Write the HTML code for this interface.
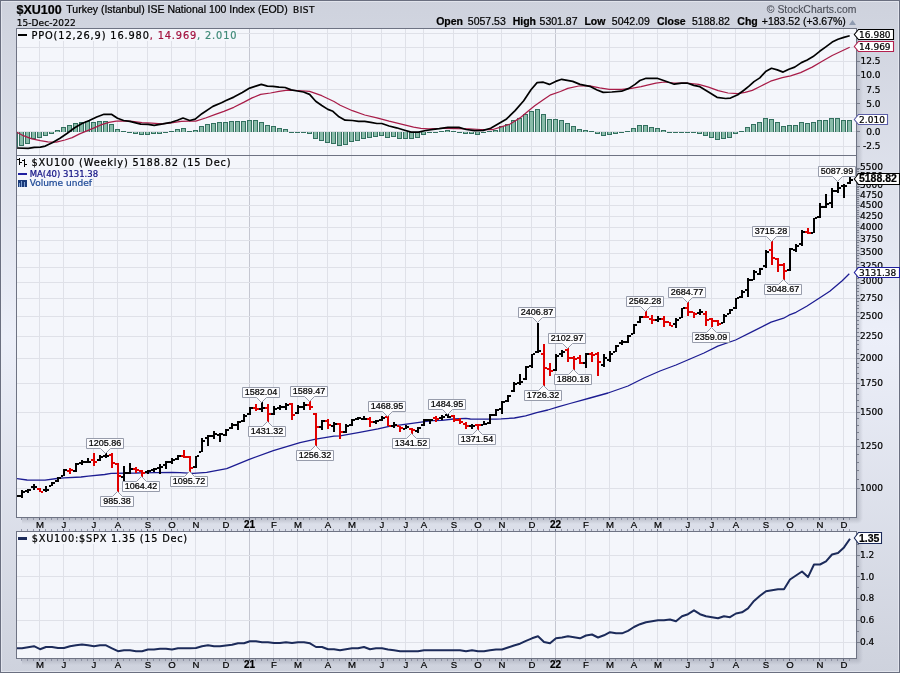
<!DOCTYPE html><html><head><meta charset="utf-8"><style>
html,body{margin:0;padding:0;background:#d8dce6;}
body{width:900px;height:673px;overflow:hidden;position:relative;}
svg{position:absolute;left:0;top:0;display:block;}
text{font-family:"Liberation Sans",Arial,sans-serif;stroke:#000;stroke-width:0.22px;}
.m{font-family:"Liberation Mono",monospace;}
.d{font-family:"DejaVu Sans",Verdana,sans-serif;}
</style></head><body>
<svg width="900" height="673" viewBox="0 0 900 673">
<defs>
<linearGradient id="bg" x1="0" y1="0" x2="0" y2="1"><stop offset="0" stop-color="#ced2dd"/><stop offset="0.5" stop-color="#eceff9"/><stop offset="1" stop-color="#ced2dd"/></linearGradient>
<linearGradient id="shR" x1="0" y1="0" x2="1" y2="0"><stop offset="0" stop-color="#9da1ae" stop-opacity="0.55"/><stop offset="1" stop-color="#9da1ae" stop-opacity="0"/></linearGradient>
<linearGradient id="shB" x1="0" y1="0" x2="0" y2="1"><stop offset="0" stop-color="#9da1ae" stop-opacity="0.55"/><stop offset="1" stop-color="#9da1ae" stop-opacity="0"/></linearGradient>
<clipPath id="c1"><rect x="17" y="29" width="839" height="126"/></clipPath>
<clipPath id="c2"><rect x="17" y="156" width="839" height="361"/></clipPath>
<clipPath id="c3"><rect x="17" y="532" width="839" height="126"/></clipPath>
<radialGradient id="shC" cx="0" cy="0" r="1" gradientUnits="objectBoundingBox"><stop offset="0" stop-color="#9da1ae" stop-opacity="0.55"/><stop offset="1" stop-color="#9da1ae" stop-opacity="0"/></radialGradient>
</defs>
<rect x="0" y="0" width="900" height="673" fill="url(#bg)"/>
<rect x="0.5" y="0.5" width="899" height="672" fill="none" stroke="#6a6f80" stroke-width="1"/>
<rect x="1.5" y="1.5" width="897" height="670" fill="none" stroke="#eef0f6" stroke-opacity="0.6" stroke-width="1"/>
<rect x="857" y="34" width="6" height="484" fill="url(#shR)"/>
<rect x="22" y="518" width="835" height="6" fill="url(#shB)"/>
<rect x="857" y="537" width="6" height="122" fill="url(#shR)"/>
<rect x="857" y="518" width="6" height="6" fill="url(#shC)"/>
<rect x="857" y="659" width="6" height="6" fill="url(#shC)"/>
<rect x="22" y="659" width="835" height="6" fill="url(#shB)"/>
<rect x="16" y="28" width="841" height="128" fill="#f4f6fb"/>
<rect x="16" y="155" width="841" height="363" fill="#f4f6fb"/>
<rect x="16" y="531" width="841" height="128" fill="#f4f6fb"/>
<g shape-rendering="crispEdges">
<rect x="39" y="29" width="1" height="126" fill="#dfe1e8"/><rect x="63" y="29" width="1" height="126" fill="#dfe1e8"/><rect x="93" y="29" width="1" height="126" fill="#dfe1e8"/><rect x="117" y="29" width="1" height="126" fill="#dfe1e8"/><rect x="147" y="29" width="1" height="126" fill="#dfe1e8"/><rect x="171" y="29" width="1" height="126" fill="#dfe1e8"/><rect x="195" y="29" width="1" height="126" fill="#dfe1e8"/><rect x="225" y="29" width="1" height="126" fill="#dfe1e8"/><rect x="249" y="29" width="1" height="126" fill="#c5c7d1"/><rect x="273" y="29" width="1" height="126" fill="#dfe1e8"/><rect x="297" y="29" width="1" height="126" fill="#dfe1e8"/><rect x="327" y="29" width="1" height="126" fill="#dfe1e8"/><rect x="351" y="29" width="1" height="126" fill="#dfe1e8"/><rect x="381" y="29" width="1" height="126" fill="#dfe1e8"/><rect x="405" y="29" width="1" height="126" fill="#dfe1e8"/><rect x="423" y="29" width="1" height="126" fill="#dfe1e8"/><rect x="453" y="29" width="1" height="126" fill="#dfe1e8"/><rect x="477" y="29" width="1" height="126" fill="#dfe1e8"/><rect x="501" y="29" width="1" height="126" fill="#dfe1e8"/><rect x="531" y="29" width="1" height="126" fill="#dfe1e8"/><rect x="555" y="29" width="1" height="126" fill="#c5c7d1"/><rect x="585" y="29" width="1" height="126" fill="#dfe1e8"/><rect x="609" y="29" width="1" height="126" fill="#dfe1e8"/><rect x="633" y="29" width="1" height="126" fill="#dfe1e8"/><rect x="657" y="29" width="1" height="126" fill="#dfe1e8"/><rect x="687" y="29" width="1" height="126" fill="#dfe1e8"/><rect x="711" y="29" width="1" height="126" fill="#dfe1e8"/><rect x="735" y="29" width="1" height="126" fill="#dfe1e8"/><rect x="765" y="29" width="1" height="126" fill="#dfe1e8"/><rect x="789" y="29" width="1" height="126" fill="#dfe1e8"/><rect x="819" y="29" width="1" height="126" fill="#dfe1e8"/><rect x="843" y="29" width="1" height="126" fill="#dfe1e8"/>
<rect x="17" y="146" width="839" height="1" fill="#dfe1e8"/>
<rect x="17" y="131" width="839" height="1" fill="#dfe1e8"/>
<rect x="17" y="117" width="839" height="1" fill="#dfe1e8"/>
<rect x="17" y="103" width="839" height="1" fill="#dfe1e8"/>
<rect x="17" y="89" width="839" height="1" fill="#dfe1e8"/>
<rect x="17" y="75" width="839" height="1" fill="#dfe1e8"/>
<rect x="17" y="61" width="839" height="1" fill="#dfe1e8"/>
<rect x="17" y="47" width="839" height="1" fill="#dfe1e8"/>
<rect x="17" y="33" width="839" height="1" fill="#dfe1e8"/>
<rect x="39" y="156" width="1" height="361" fill="#dfe1e8"/><rect x="63" y="156" width="1" height="361" fill="#dfe1e8"/><rect x="93" y="156" width="1" height="361" fill="#dfe1e8"/><rect x="117" y="156" width="1" height="361" fill="#dfe1e8"/><rect x="147" y="156" width="1" height="361" fill="#dfe1e8"/><rect x="171" y="156" width="1" height="361" fill="#dfe1e8"/><rect x="195" y="156" width="1" height="361" fill="#dfe1e8"/><rect x="225" y="156" width="1" height="361" fill="#dfe1e8"/><rect x="249" y="156" width="1" height="361" fill="#c5c7d1"/><rect x="273" y="156" width="1" height="361" fill="#dfe1e8"/><rect x="297" y="156" width="1" height="361" fill="#dfe1e8"/><rect x="327" y="156" width="1" height="361" fill="#dfe1e8"/><rect x="351" y="156" width="1" height="361" fill="#dfe1e8"/><rect x="381" y="156" width="1" height="361" fill="#dfe1e8"/><rect x="405" y="156" width="1" height="361" fill="#dfe1e8"/><rect x="423" y="156" width="1" height="361" fill="#dfe1e8"/><rect x="453" y="156" width="1" height="361" fill="#dfe1e8"/><rect x="477" y="156" width="1" height="361" fill="#dfe1e8"/><rect x="501" y="156" width="1" height="361" fill="#dfe1e8"/><rect x="531" y="156" width="1" height="361" fill="#dfe1e8"/><rect x="555" y="156" width="1" height="361" fill="#c5c7d1"/><rect x="585" y="156" width="1" height="361" fill="#dfe1e8"/><rect x="609" y="156" width="1" height="361" fill="#dfe1e8"/><rect x="633" y="156" width="1" height="361" fill="#dfe1e8"/><rect x="657" y="156" width="1" height="361" fill="#dfe1e8"/><rect x="687" y="156" width="1" height="361" fill="#dfe1e8"/><rect x="711" y="156" width="1" height="361" fill="#dfe1e8"/><rect x="735" y="156" width="1" height="361" fill="#dfe1e8"/><rect x="765" y="156" width="1" height="361" fill="#dfe1e8"/><rect x="789" y="156" width="1" height="361" fill="#dfe1e8"/><rect x="819" y="156" width="1" height="361" fill="#dfe1e8"/><rect x="843" y="156" width="1" height="361" fill="#dfe1e8"/>
<rect x="17" y="488" width="839" height="1" fill="#dfe1e8"/>
<rect x="17" y="446" width="839" height="1" fill="#dfe1e8"/>
<rect x="17" y="412" width="839" height="1" fill="#dfe1e8"/>
<rect x="17" y="383" width="839" height="1" fill="#dfe1e8"/>
<rect x="17" y="358" width="839" height="1" fill="#dfe1e8"/>
<rect x="17" y="336" width="839" height="1" fill="#dfe1e8"/>
<rect x="17" y="316" width="839" height="1" fill="#dfe1e8"/>
<rect x="17" y="298" width="839" height="1" fill="#dfe1e8"/>
<rect x="17" y="282" width="839" height="1" fill="#dfe1e8"/>
<rect x="17" y="267" width="839" height="1" fill="#dfe1e8"/>
<rect x="17" y="253" width="839" height="1" fill="#dfe1e8"/>
<rect x="17" y="240" width="839" height="1" fill="#dfe1e8"/>
<rect x="17" y="227" width="839" height="1" fill="#dfe1e8"/>
<rect x="17" y="216" width="839" height="1" fill="#dfe1e8"/>
<rect x="17" y="205" width="839" height="1" fill="#dfe1e8"/>
<rect x="17" y="195" width="839" height="1" fill="#dfe1e8"/>
<rect x="17" y="186" width="839" height="1" fill="#dfe1e8"/>
<rect x="17" y="176" width="839" height="1" fill="#dfe1e8"/>
<rect x="17" y="168" width="839" height="1" fill="#dfe1e8"/>
<rect x="39" y="532" width="1" height="126" fill="#dfe1e8"/><rect x="63" y="532" width="1" height="126" fill="#dfe1e8"/><rect x="93" y="532" width="1" height="126" fill="#dfe1e8"/><rect x="117" y="532" width="1" height="126" fill="#dfe1e8"/><rect x="147" y="532" width="1" height="126" fill="#dfe1e8"/><rect x="171" y="532" width="1" height="126" fill="#dfe1e8"/><rect x="195" y="532" width="1" height="126" fill="#dfe1e8"/><rect x="225" y="532" width="1" height="126" fill="#dfe1e8"/><rect x="249" y="532" width="1" height="126" fill="#c5c7d1"/><rect x="273" y="532" width="1" height="126" fill="#dfe1e8"/><rect x="297" y="532" width="1" height="126" fill="#dfe1e8"/><rect x="327" y="532" width="1" height="126" fill="#dfe1e8"/><rect x="351" y="532" width="1" height="126" fill="#dfe1e8"/><rect x="381" y="532" width="1" height="126" fill="#dfe1e8"/><rect x="405" y="532" width="1" height="126" fill="#dfe1e8"/><rect x="423" y="532" width="1" height="126" fill="#dfe1e8"/><rect x="453" y="532" width="1" height="126" fill="#dfe1e8"/><rect x="477" y="532" width="1" height="126" fill="#dfe1e8"/><rect x="501" y="532" width="1" height="126" fill="#dfe1e8"/><rect x="531" y="532" width="1" height="126" fill="#dfe1e8"/><rect x="555" y="532" width="1" height="126" fill="#c5c7d1"/><rect x="585" y="532" width="1" height="126" fill="#dfe1e8"/><rect x="609" y="532" width="1" height="126" fill="#dfe1e8"/><rect x="633" y="532" width="1" height="126" fill="#dfe1e8"/><rect x="657" y="532" width="1" height="126" fill="#dfe1e8"/><rect x="687" y="532" width="1" height="126" fill="#dfe1e8"/><rect x="711" y="532" width="1" height="126" fill="#dfe1e8"/><rect x="735" y="532" width="1" height="126" fill="#dfe1e8"/><rect x="765" y="532" width="1" height="126" fill="#dfe1e8"/><rect x="789" y="532" width="1" height="126" fill="#dfe1e8"/><rect x="819" y="532" width="1" height="126" fill="#dfe1e8"/><rect x="843" y="532" width="1" height="126" fill="#dfe1e8"/>
<rect x="17" y="642" width="839" height="1" fill="#dfe1e8"/>
<rect x="17" y="620" width="839" height="1" fill="#dfe1e8"/>
<rect x="17" y="598" width="839" height="1" fill="#dfe1e8"/>
<rect x="17" y="576" width="839" height="1" fill="#dfe1e8"/>
<rect x="17" y="555" width="839" height="1" fill="#dfe1e8"/>
</g>
<g shape-rendering="crispEdges" clip-path="url(#c1)"><rect x="13" y="132" width="5" height="15" fill="#33705f"/><rect x="14" y="132" width="3" height="14" fill="#89bba9"/><rect x="19" y="132" width="5" height="14" fill="#33705f"/><rect x="20" y="132" width="3" height="13" fill="#89bba9"/><rect x="25" y="132" width="5" height="12" fill="#33705f"/><rect x="26" y="132" width="3" height="11" fill="#89bba9"/><rect x="31" y="132" width="5" height="7" fill="#33705f"/><rect x="32" y="132" width="3" height="6" fill="#89bba9"/><rect x="37" y="132" width="5" height="6" fill="#33705f"/><rect x="38" y="132" width="3" height="5" fill="#89bba9"/><rect x="43" y="132" width="5" height="4" fill="#33705f"/><rect x="44" y="132" width="3" height="3" fill="#89bba9"/><rect x="49" y="132" width="5" height="2" fill="#33705f"/><rect x="50" y="132" width="3" height="1" fill="#89bba9"/><rect x="55" y="130" width="5" height="2" fill="#33705f"/><rect x="56" y="131" width="3" height="1" fill="#89bba9"/><rect x="61" y="127" width="5" height="5" fill="#33705f"/><rect x="62" y="128" width="3" height="4" fill="#89bba9"/><rect x="67" y="125" width="5" height="7" fill="#33705f"/><rect x="68" y="126" width="3" height="6" fill="#89bba9"/><rect x="73" y="123" width="5" height="9" fill="#33705f"/><rect x="74" y="124" width="3" height="8" fill="#89bba9"/><rect x="79" y="122" width="5" height="10" fill="#33705f"/><rect x="80" y="123" width="3" height="9" fill="#89bba9"/><rect x="85" y="121" width="5" height="11" fill="#33705f"/><rect x="86" y="122" width="3" height="10" fill="#89bba9"/><rect x="91" y="122" width="5" height="10" fill="#33705f"/><rect x="92" y="123" width="3" height="9" fill="#89bba9"/><rect x="97" y="121" width="5" height="11" fill="#33705f"/><rect x="98" y="122" width="3" height="10" fill="#89bba9"/><rect x="103" y="121" width="5" height="11" fill="#33705f"/><rect x="104" y="122" width="3" height="10" fill="#89bba9"/><rect x="109" y="124" width="5" height="8" fill="#33705f"/><rect x="110" y="125" width="3" height="7" fill="#89bba9"/><rect x="115" y="129" width="5" height="3" fill="#33705f"/><rect x="116" y="130" width="3" height="2" fill="#89bba9"/><rect x="121" y="131" width="5" height="1" fill="#33705f"/><rect x="127" y="132" width="5" height="1" fill="#33705f"/><rect x="133" y="132" width="5" height="2" fill="#33705f"/><rect x="134" y="132" width="3" height="1" fill="#89bba9"/><rect x="139" y="132" width="5" height="3" fill="#33705f"/><rect x="140" y="132" width="3" height="2" fill="#89bba9"/><rect x="145" y="132" width="5" height="3" fill="#33705f"/><rect x="146" y="132" width="3" height="2" fill="#89bba9"/><rect x="151" y="132" width="5" height="2" fill="#33705f"/><rect x="152" y="132" width="3" height="1" fill="#89bba9"/><rect x="157" y="132" width="5" height="2" fill="#33705f"/><rect x="158" y="132" width="3" height="1" fill="#89bba9"/><rect x="163" y="132" width="5" height="1" fill="#33705f"/><rect x="169" y="131" width="5" height="1" fill="#33705f"/><rect x="175" y="129" width="5" height="3" fill="#33705f"/><rect x="176" y="130" width="3" height="2" fill="#89bba9"/><rect x="181" y="128" width="5" height="4" fill="#33705f"/><rect x="182" y="129" width="3" height="3" fill="#89bba9"/><rect x="187" y="131" width="5" height="1" fill="#33705f"/><rect x="193" y="130" width="5" height="2" fill="#33705f"/><rect x="194" y="131" width="3" height="1" fill="#89bba9"/><rect x="199" y="126" width="5" height="6" fill="#33705f"/><rect x="200" y="127" width="3" height="5" fill="#89bba9"/><rect x="205" y="124" width="5" height="8" fill="#33705f"/><rect x="206" y="125" width="3" height="7" fill="#89bba9"/><rect x="211" y="123" width="5" height="9" fill="#33705f"/><rect x="212" y="124" width="3" height="8" fill="#89bba9"/><rect x="217" y="122" width="5" height="10" fill="#33705f"/><rect x="218" y="123" width="3" height="9" fill="#89bba9"/><rect x="223" y="122" width="5" height="10" fill="#33705f"/><rect x="224" y="123" width="3" height="9" fill="#89bba9"/><rect x="229" y="121" width="5" height="11" fill="#33705f"/><rect x="230" y="122" width="3" height="10" fill="#89bba9"/><rect x="235" y="121" width="5" height="11" fill="#33705f"/><rect x="236" y="122" width="3" height="10" fill="#89bba9"/><rect x="241" y="121" width="5" height="11" fill="#33705f"/><rect x="242" y="122" width="3" height="10" fill="#89bba9"/><rect x="247" y="120" width="5" height="12" fill="#33705f"/><rect x="248" y="121" width="3" height="11" fill="#89bba9"/><rect x="253" y="120" width="5" height="12" fill="#33705f"/><rect x="254" y="121" width="3" height="11" fill="#89bba9"/><rect x="259" y="122" width="5" height="10" fill="#33705f"/><rect x="260" y="123" width="3" height="9" fill="#89bba9"/><rect x="265" y="125" width="5" height="7" fill="#33705f"/><rect x="266" y="126" width="3" height="6" fill="#89bba9"/><rect x="271" y="126" width="5" height="6" fill="#33705f"/><rect x="272" y="127" width="3" height="5" fill="#89bba9"/><rect x="277" y="128" width="5" height="4" fill="#33705f"/><rect x="278" y="129" width="3" height="3" fill="#89bba9"/><rect x="283" y="129" width="5" height="3" fill="#33705f"/><rect x="284" y="130" width="3" height="2" fill="#89bba9"/><rect x="289" y="132" width="5" height="1" fill="#33705f"/><rect x="295" y="132" width="5" height="1" fill="#33705f"/><rect x="301" y="132" width="5" height="1" fill="#33705f"/><rect x="307" y="132" width="5" height="2" fill="#33705f"/><rect x="308" y="132" width="3" height="1" fill="#89bba9"/><rect x="313" y="132" width="5" height="7" fill="#33705f"/><rect x="314" y="132" width="3" height="6" fill="#89bba9"/><rect x="319" y="132" width="5" height="9" fill="#33705f"/><rect x="320" y="132" width="3" height="8" fill="#89bba9"/><rect x="325" y="132" width="5" height="11" fill="#33705f"/><rect x="326" y="132" width="3" height="10" fill="#89bba9"/><rect x="331" y="132" width="5" height="12" fill="#33705f"/><rect x="332" y="132" width="3" height="11" fill="#89bba9"/><rect x="337" y="132" width="5" height="14" fill="#33705f"/><rect x="338" y="132" width="3" height="13" fill="#89bba9"/><rect x="343" y="132" width="5" height="13" fill="#33705f"/><rect x="344" y="132" width="3" height="12" fill="#89bba9"/><rect x="349" y="132" width="5" height="10" fill="#33705f"/><rect x="350" y="132" width="3" height="9" fill="#89bba9"/><rect x="355" y="132" width="5" height="9" fill="#33705f"/><rect x="356" y="132" width="3" height="8" fill="#89bba9"/><rect x="361" y="132" width="5" height="7" fill="#33705f"/><rect x="362" y="132" width="3" height="6" fill="#89bba9"/><rect x="367" y="132" width="5" height="6" fill="#33705f"/><rect x="368" y="132" width="3" height="5" fill="#89bba9"/><rect x="373" y="132" width="5" height="5" fill="#33705f"/><rect x="374" y="132" width="3" height="4" fill="#89bba9"/><rect x="379" y="132" width="5" height="4" fill="#33705f"/><rect x="380" y="132" width="3" height="3" fill="#89bba9"/><rect x="385" y="132" width="5" height="6" fill="#33705f"/><rect x="386" y="132" width="3" height="5" fill="#89bba9"/><rect x="391" y="132" width="5" height="5" fill="#33705f"/><rect x="392" y="132" width="3" height="4" fill="#89bba9"/><rect x="397" y="132" width="5" height="7" fill="#33705f"/><rect x="398" y="132" width="3" height="6" fill="#89bba9"/><rect x="403" y="132" width="5" height="7" fill="#33705f"/><rect x="404" y="132" width="3" height="6" fill="#89bba9"/><rect x="409" y="132" width="5" height="7" fill="#33705f"/><rect x="410" y="132" width="3" height="6" fill="#89bba9"/><rect x="415" y="132" width="5" height="6" fill="#33705f"/><rect x="416" y="132" width="3" height="5" fill="#89bba9"/><rect x="421" y="132" width="5" height="3" fill="#33705f"/><rect x="422" y="132" width="3" height="2" fill="#89bba9"/><rect x="427" y="132" width="5" height="1" fill="#33705f"/><rect x="433" y="132" width="5" height="1" fill="#33705f"/><rect x="439" y="131" width="5" height="1" fill="#33705f"/><rect x="445" y="130" width="5" height="2" fill="#33705f"/><rect x="446" y="131" width="3" height="1" fill="#89bba9"/><rect x="451" y="131" width="5" height="1" fill="#33705f"/><rect x="457" y="132" width="5" height="1" fill="#33705f"/><rect x="463" y="132" width="5" height="2" fill="#33705f"/><rect x="464" y="132" width="3" height="1" fill="#89bba9"/><rect x="469" y="132" width="5" height="2" fill="#33705f"/><rect x="470" y="132" width="3" height="1" fill="#89bba9"/><rect x="475" y="132" width="5" height="3" fill="#33705f"/><rect x="476" y="132" width="3" height="2" fill="#89bba9"/><rect x="481" y="132" width="5" height="1" fill="#33705f"/><rect x="487" y="131" width="5" height="1" fill="#33705f"/><rect x="493" y="130" width="5" height="2" fill="#33705f"/><rect x="494" y="131" width="3" height="1" fill="#89bba9"/><rect x="499" y="126" width="5" height="6" fill="#33705f"/><rect x="500" y="127" width="3" height="5" fill="#89bba9"/><rect x="505" y="124" width="5" height="8" fill="#33705f"/><rect x="506" y="125" width="3" height="7" fill="#89bba9"/><rect x="511" y="120" width="5" height="12" fill="#33705f"/><rect x="512" y="121" width="3" height="11" fill="#89bba9"/><rect x="517" y="118" width="5" height="14" fill="#33705f"/><rect x="518" y="119" width="3" height="13" fill="#89bba9"/><rect x="523" y="114" width="5" height="18" fill="#33705f"/><rect x="524" y="115" width="3" height="17" fill="#89bba9"/><rect x="529" y="111" width="5" height="21" fill="#33705f"/><rect x="530" y="112" width="3" height="20" fill="#89bba9"/><rect x="535" y="109" width="5" height="23" fill="#33705f"/><rect x="536" y="110" width="3" height="22" fill="#89bba9"/><rect x="541" y="114" width="5" height="18" fill="#33705f"/><rect x="542" y="115" width="3" height="17" fill="#89bba9"/><rect x="547" y="119" width="5" height="13" fill="#33705f"/><rect x="548" y="120" width="3" height="12" fill="#89bba9"/><rect x="553" y="119" width="5" height="13" fill="#33705f"/><rect x="554" y="120" width="3" height="12" fill="#89bba9"/><rect x="559" y="120" width="5" height="12" fill="#33705f"/><rect x="560" y="121" width="3" height="11" fill="#89bba9"/><rect x="565" y="123" width="5" height="9" fill="#33705f"/><rect x="566" y="124" width="3" height="8" fill="#89bba9"/><rect x="571" y="126" width="5" height="6" fill="#33705f"/><rect x="572" y="127" width="3" height="5" fill="#89bba9"/><rect x="577" y="129" width="5" height="3" fill="#33705f"/><rect x="578" y="130" width="3" height="2" fill="#89bba9"/><rect x="583" y="130" width="5" height="2" fill="#33705f"/><rect x="584" y="131" width="3" height="1" fill="#89bba9"/><rect x="589" y="131" width="5" height="1" fill="#33705f"/><rect x="595" y="132" width="5" height="2" fill="#33705f"/><rect x="596" y="132" width="3" height="1" fill="#89bba9"/><rect x="601" y="132" width="5" height="4" fill="#33705f"/><rect x="602" y="132" width="3" height="3" fill="#89bba9"/><rect x="607" y="132" width="5" height="3" fill="#33705f"/><rect x="608" y="132" width="3" height="2" fill="#89bba9"/><rect x="613" y="132" width="5" height="2" fill="#33705f"/><rect x="614" y="132" width="3" height="1" fill="#89bba9"/><rect x="619" y="132" width="5" height="1" fill="#33705f"/><rect x="625" y="131" width="5" height="1" fill="#33705f"/><rect x="631" y="128" width="5" height="4" fill="#33705f"/><rect x="632" y="129" width="3" height="3" fill="#89bba9"/><rect x="637" y="125" width="5" height="7" fill="#33705f"/><rect x="638" y="126" width="3" height="6" fill="#89bba9"/><rect x="643" y="125" width="5" height="7" fill="#33705f"/><rect x="644" y="126" width="3" height="6" fill="#89bba9"/><rect x="649" y="127" width="5" height="5" fill="#33705f"/><rect x="650" y="128" width="3" height="4" fill="#89bba9"/><rect x="655" y="128" width="5" height="4" fill="#33705f"/><rect x="656" y="129" width="3" height="3" fill="#89bba9"/><rect x="661" y="130" width="5" height="2" fill="#33705f"/><rect x="662" y="131" width="3" height="1" fill="#89bba9"/><rect x="667" y="132" width="5" height="1" fill="#33705f"/><rect x="673" y="132" width="5" height="1" fill="#33705f"/><rect x="679" y="132" width="5" height="1" fill="#33705f"/><rect x="685" y="132" width="5" height="1" fill="#33705f"/><rect x="691" y="132" width="5" height="1" fill="#33705f"/><rect x="697" y="132" width="5" height="2" fill="#33705f"/><rect x="698" y="132" width="3" height="1" fill="#89bba9"/><rect x="703" y="132" width="5" height="4" fill="#33705f"/><rect x="704" y="132" width="3" height="3" fill="#89bba9"/><rect x="709" y="132" width="5" height="6" fill="#33705f"/><rect x="710" y="132" width="3" height="5" fill="#89bba9"/><rect x="715" y="132" width="5" height="8" fill="#33705f"/><rect x="716" y="132" width="3" height="7" fill="#89bba9"/><rect x="721" y="132" width="5" height="7" fill="#33705f"/><rect x="722" y="132" width="3" height="6" fill="#89bba9"/><rect x="727" y="132" width="5" height="6" fill="#33705f"/><rect x="728" y="132" width="3" height="5" fill="#89bba9"/><rect x="733" y="132" width="5" height="2" fill="#33705f"/><rect x="734" y="132" width="3" height="1" fill="#89bba9"/><rect x="739" y="131" width="5" height="1" fill="#33705f"/><rect x="745" y="127" width="5" height="5" fill="#33705f"/><rect x="746" y="128" width="3" height="4" fill="#89bba9"/><rect x="751" y="124" width="5" height="8" fill="#33705f"/><rect x="752" y="125" width="3" height="7" fill="#89bba9"/><rect x="757" y="122" width="5" height="10" fill="#33705f"/><rect x="758" y="123" width="3" height="9" fill="#89bba9"/><rect x="763" y="118" width="5" height="14" fill="#33705f"/><rect x="764" y="119" width="3" height="13" fill="#89bba9"/><rect x="769" y="119" width="5" height="13" fill="#33705f"/><rect x="770" y="120" width="3" height="12" fill="#89bba9"/><rect x="775" y="122" width="5" height="10" fill="#33705f"/><rect x="776" y="123" width="3" height="9" fill="#89bba9"/><rect x="781" y="126" width="5" height="6" fill="#33705f"/><rect x="782" y="127" width="3" height="5" fill="#89bba9"/><rect x="787" y="125" width="5" height="7" fill="#33705f"/><rect x="788" y="126" width="3" height="6" fill="#89bba9"/><rect x="793" y="125" width="5" height="7" fill="#33705f"/><rect x="794" y="126" width="3" height="6" fill="#89bba9"/><rect x="799" y="122" width="5" height="10" fill="#33705f"/><rect x="800" y="123" width="3" height="9" fill="#89bba9"/><rect x="805" y="123" width="5" height="9" fill="#33705f"/><rect x="806" y="124" width="3" height="8" fill="#89bba9"/><rect x="811" y="122" width="5" height="10" fill="#33705f"/><rect x="812" y="123" width="3" height="9" fill="#89bba9"/><rect x="817" y="120" width="5" height="12" fill="#33705f"/><rect x="818" y="121" width="3" height="11" fill="#89bba9"/><rect x="823" y="120" width="5" height="12" fill="#33705f"/><rect x="824" y="121" width="3" height="11" fill="#89bba9"/><rect x="829" y="118" width="5" height="14" fill="#33705f"/><rect x="830" y="119" width="3" height="13" fill="#89bba9"/><rect x="835" y="118" width="5" height="14" fill="#33705f"/><rect x="836" y="119" width="3" height="13" fill="#89bba9"/><rect x="841" y="120" width="5" height="12" fill="#33705f"/><rect x="842" y="121" width="3" height="11" fill="#89bba9"/><rect x="847" y="120" width="5" height="12" fill="#33705f"/><rect x="848" y="121" width="3" height="11" fill="#89bba9"/></g>
<polyline clip-path="url(#c1)" points="17,132.3 23.3,135.7 31.9,138.8 40.4,140.6 47.8,141.8 56.3,142.2 64.9,140 72.2,137.6 79.6,133.9 86.9,130.8 94.2,127.8 101.6,124.7 108.9,122.3 116.2,121.1 126,120.9 132.2,121.4 142,122.7 151.8,123.1 161.6,123.9 171.3,122.9 181.1,121.4 188.5,121.1 195.8,121.1 205.6,118 215.4,114.3 223.9,111.3 233.8,107.3 243.6,102.4 252.1,97.9 260.7,94.4 270.5,93 279,91.4 287.6,90.2 297.3,90.5 309.6,91.4 321.8,95.7 334,101.5 340.2,105.2 352.4,110.7 364.7,115 376.9,117.8 389.1,121.1 401.3,124.1 413.6,127.2 420.9,128.4 428.2,128.8 438,128.5 444.2,128.3 456.4,128.7 468.7,128.9 480.9,129.5 493.1,129.5 500.5,127.1 510.2,124 520,117.9 527.4,111.8 534.7,105.7 543.3,99.7 550.7,94.8 560.4,91.5 567.8,88.4 578.8,86 589.8,85.9 599.6,87.9 609.3,89.3 621.6,89.3 631.4,88.4 641.1,86.6 647.3,85.1 655.9,83.2 664.4,82 674.2,83 686.5,83 698.7,84.4 708.5,87.1 718.2,90.6 728,93 737.8,93.6 745.1,92.4 752.3,90.4 760.6,86.2 770.6,81.2 782.3,77.6 790.6,75.9 800.6,72.6 812.2,67.1 822.2,61.3 832.2,55.5 849.7,47.3" fill="none" stroke="#a81c48" stroke-width="1.25" stroke-linejoin="round"/>
<polyline clip-path="url(#c1)" points="17,148 28.2,148.3 34.3,147.3 40.4,147.1 45.3,146.1 52.7,142.5 60,138.2 67.3,133.3 74.7,127.8 82,123.5 89.3,120.5 96.7,117 104,114.3 111.4,114.3 117.5,118.3 123.6,120.5 129.8,121.4 140.8,124.1 148.1,124.4 154.2,125.3 162.8,123.9 171.3,122.3 177.5,120.2 183,118 189.7,120.5 195.2,119.2 201.9,113.7 212.9,106.4 221.5,102.7 226,100.6 233.8,97.1 242.3,92.6 249.7,88.1 255.8,86.1 261.3,84.4 267.4,86.1 272.9,86.3 279,87.1 285.1,87.5 291.2,89.9 297.3,91 303.5,92 309.6,94.4 315.7,101.2 321.8,105.5 327.9,109.4 332.9,111.3 339,116.8 345.1,120.2 352.4,120.5 358.6,121.4 364.7,121.4 370.8,122.3 376.9,123.5 381.8,123.5 389.1,126 396.5,127.8 403.8,130 411.1,132.1 418.5,132.1 425.8,130.5 433.1,129.3 439.3,128.7 447.9,127.4 458.9,127.4 466.2,129.5 474.8,130.7 483.3,130.4 490.7,128.3 498,124 506.6,118.9 515.1,110.6 523.7,100.8 531,89.8 537.1,82.6 543.3,82.2 549.4,84.4 555.6,81.4 561.7,79.3 572.7,81.4 580,84.4 589.8,86.3 597.1,90 603.2,92.4 611.8,92 621.6,91.2 628.9,88.4 635,84.4 639.9,80.5 646.1,78.3 657.1,78.3 664.4,80.8 674.2,84.2 681.6,83.2 687.7,83.2 693.8,85.4 699.9,86.7 708.5,92 717,97.3 725.6,98.5 730.5,98.1 737.8,94.8 743.9,90.2 749,86.2 754,81.6 759.8,77.9 765.6,71.6 771.5,68.3 777.3,69.9 783.1,72.1 788.9,69.3 794.7,67.1 801.4,62.6 807.2,60 813.1,56.6 819.7,51.3 825.5,47.1 832.2,42.1 838,39.3 843.8,37.4 849.7,35.8" fill="none" stroke="#000000" stroke-width="1.7" stroke-linejoin="round"/>
<polyline clip-path="url(#c2)" points="17,478.6 27,480.0 45,480.2 57,478.5 64,477.8 81,477.0 88.4,476.1 104.7,474.5 111.2,473.4 136,473.0 140.7,472.8 172,472.4 180,472.6 193.3,473.3 206.7,472.4 226.7,468.7 249.3,459.3 273.3,450.7 300,442.7 315.8,439.1 334,436.2 340,435.8 359.6,432.4 378,428.9 388,426.6 404.7,424.4 432,420.7 442,420.4 453.4,419 465.9,418.3 470.3,419 496,419.1 501.1,418.9 514.4,418 525.6,415.9 536.7,412.6 547.8,410 558.9,406.7 570,403.5 590,398 608,393 628,386 644,378 660,371 676,365 690,359 704,353 717.8,346.2 735.6,340 753.3,331.1 771.1,322.2 783.6,318.2 788.9,315.2 796,312.3 806.7,306.2 819.1,298.3 829.8,291.2 842.2,280.8 849.3,273.8" fill="none" stroke="#1c1c92" stroke-width="1.3" stroke-linejoin="round"/>
<g shape-rendering="crispEdges" clip-path="url(#c2)"><rect x="15" y="494" width="2" height="3" fill="#000"/><rect x="13" y="495" width="2" height="2" fill="#000"/><rect x="17" y="495" width="2" height="2" fill="#000"/><rect x="21" y="490" width="2" height="8" fill="#000"/><rect x="19" y="495" width="2" height="2" fill="#000"/><rect x="23" y="491" width="2" height="2" fill="#000"/><rect x="27" y="489" width="2" height="4" fill="#000"/><rect x="25" y="490" width="2" height="2" fill="#000"/><rect x="29" y="489" width="2" height="2" fill="#000"/><rect x="33" y="484" width="2" height="6" fill="#000"/><rect x="31" y="486" width="2" height="2" fill="#000"/><rect x="35" y="486" width="2" height="2" fill="#000"/><rect x="39" y="488" width="2" height="4" fill="#e00000"/><rect x="37" y="488" width="2" height="2" fill="#e00000"/><rect x="41" y="491" width="2" height="2" fill="#e00000"/><rect x="45" y="486" width="2" height="6" fill="#000"/><rect x="43" y="489" width="2" height="2" fill="#000"/><rect x="47" y="489" width="2" height="2" fill="#000"/><rect x="51" y="482" width="2" height="4" fill="#000"/><rect x="49" y="485" width="2" height="2" fill="#000"/><rect x="53" y="482" width="2" height="2" fill="#000"/><rect x="57" y="477" width="2" height="5" fill="#000"/><rect x="55" y="480" width="2" height="2" fill="#000"/><rect x="59" y="477" width="2" height="2" fill="#000"/><rect x="63" y="469" width="2" height="7" fill="#000"/><rect x="61" y="475" width="2" height="2" fill="#000"/><rect x="65" y="469" width="2" height="2" fill="#000"/><rect x="69" y="468" width="2" height="6" fill="#e00000"/><rect x="67" y="470" width="2" height="2" fill="#e00000"/><rect x="71" y="469" width="2" height="2" fill="#e00000"/><rect x="75" y="463" width="2" height="9" fill="#000"/><rect x="73" y="470" width="2" height="2" fill="#000"/><rect x="77" y="463" width="2" height="2" fill="#000"/><rect x="81" y="460" width="2" height="5" fill="#000"/><rect x="79" y="462" width="2" height="2" fill="#000"/><rect x="83" y="461" width="2" height="2" fill="#000"/><rect x="87" y="458" width="2" height="5" fill="#000"/><rect x="85" y="461" width="2" height="2" fill="#000"/><rect x="89" y="461" width="2" height="2" fill="#000"/><rect x="93" y="453" width="2" height="13" fill="#e00000"/><rect x="91" y="459" width="2" height="2" fill="#e00000"/><rect x="95" y="461" width="2" height="2" fill="#e00000"/><rect x="99" y="455" width="2" height="6" fill="#000"/><rect x="97" y="459" width="2" height="2" fill="#000"/><rect x="101" y="456" width="2" height="2" fill="#000"/><rect x="105" y="453" width="2" height="5" fill="#000"/><rect x="103" y="455" width="2" height="2" fill="#000"/><rect x="107" y="455" width="2" height="2" fill="#000"/><rect x="111" y="453" width="2" height="15" fill="#e00000"/><rect x="109" y="454" width="2" height="2" fill="#e00000"/><rect x="113" y="462" width="2" height="2" fill="#e00000"/><rect x="117" y="463" width="2" height="29" fill="#e00000"/><rect x="115" y="463" width="2" height="2" fill="#e00000"/><rect x="119" y="475" width="2" height="2" fill="#e00000"/><rect x="123" y="466" width="2" height="16" fill="#000"/><rect x="121" y="476" width="2" height="2" fill="#000"/><rect x="125" y="472" width="2" height="2" fill="#000"/><rect x="129" y="463" width="2" height="11" fill="#000"/><rect x="127" y="472" width="2" height="2" fill="#000"/><rect x="131" y="468" width="2" height="2" fill="#000"/><rect x="135" y="467" width="2" height="6" fill="#e00000"/><rect x="133" y="468" width="2" height="2" fill="#e00000"/><rect x="137" y="469" width="2" height="2" fill="#e00000"/><rect x="141" y="470" width="2" height="7" fill="#e00000"/><rect x="139" y="470" width="2" height="2" fill="#e00000"/><rect x="143" y="472" width="2" height="2" fill="#e00000"/><rect x="147" y="470" width="2" height="4" fill="#000"/><rect x="145" y="471" width="2" height="2" fill="#000"/><rect x="149" y="470" width="2" height="2" fill="#000"/><rect x="153" y="468" width="2" height="4" fill="#000"/><rect x="151" y="469" width="2" height="2" fill="#000"/><rect x="155" y="468" width="2" height="2" fill="#000"/><rect x="159" y="464" width="2" height="10" fill="#000"/><rect x="157" y="467" width="2" height="2" fill="#000"/><rect x="161" y="466" width="2" height="2" fill="#000"/><rect x="165" y="461" width="2" height="8" fill="#000"/><rect x="163" y="464" width="2" height="2" fill="#000"/><rect x="167" y="461" width="2" height="2" fill="#000"/><rect x="171" y="458" width="2" height="6" fill="#000"/><rect x="169" y="461" width="2" height="2" fill="#000"/><rect x="173" y="459" width="2" height="2" fill="#000"/><rect x="177" y="455" width="2" height="5" fill="#000"/><rect x="175" y="458" width="2" height="2" fill="#000"/><rect x="179" y="455" width="2" height="2" fill="#000"/><rect x="183" y="450" width="2" height="8" fill="#e00000"/><rect x="181" y="455" width="2" height="2" fill="#e00000"/><rect x="185" y="456" width="2" height="2" fill="#e00000"/><rect x="189" y="456" width="2" height="16" fill="#e00000"/><rect x="187" y="456" width="2" height="2" fill="#e00000"/><rect x="191" y="467" width="2" height="2" fill="#e00000"/><rect x="195" y="456" width="2" height="12" fill="#000"/><rect x="193" y="466" width="2" height="2" fill="#000"/><rect x="197" y="455" width="2" height="2" fill="#000"/><rect x="201" y="438" width="2" height="14" fill="#000"/><rect x="199" y="451" width="2" height="2" fill="#000"/><rect x="203" y="440" width="2" height="2" fill="#000"/><rect x="207" y="435" width="2" height="11" fill="#000"/><rect x="205" y="437" width="2" height="2" fill="#000"/><rect x="209" y="435" width="2" height="2" fill="#000"/><rect x="213" y="431" width="2" height="8" fill="#000"/><rect x="211" y="435" width="2" height="2" fill="#000"/><rect x="215" y="433" width="2" height="2" fill="#000"/><rect x="219" y="433" width="2" height="9" fill="#000"/><rect x="217" y="434" width="2" height="2" fill="#000"/><rect x="221" y="433" width="2" height="2" fill="#000"/><rect x="225" y="429" width="2" height="7" fill="#000"/><rect x="223" y="434" width="2" height="2" fill="#000"/><rect x="227" y="429" width="2" height="2" fill="#000"/><rect x="231" y="423" width="2" height="6" fill="#000"/><rect x="229" y="427" width="2" height="2" fill="#000"/><rect x="233" y="424" width="2" height="2" fill="#000"/><rect x="237" y="421" width="2" height="9" fill="#000"/><rect x="235" y="424" width="2" height="2" fill="#000"/><rect x="239" y="421" width="2" height="2" fill="#000"/><rect x="243" y="414" width="2" height="8" fill="#000"/><rect x="241" y="420" width="2" height="2" fill="#000"/><rect x="245" y="415" width="2" height="2" fill="#000"/><rect x="249" y="407" width="2" height="8" fill="#000"/><rect x="247" y="413" width="2" height="2" fill="#000"/><rect x="251" y="407" width="2" height="2" fill="#000"/><rect x="255" y="404" width="2" height="7" fill="#e00000"/><rect x="253" y="407" width="2" height="2" fill="#e00000"/><rect x="257" y="408" width="2" height="2" fill="#e00000"/><rect x="261" y="402" width="2" height="10" fill="#000"/><rect x="259" y="408" width="2" height="2" fill="#000"/><rect x="263" y="407" width="2" height="2" fill="#000"/><rect x="267" y="404" width="2" height="18" fill="#e00000"/><rect x="265" y="407" width="2" height="2" fill="#e00000"/><rect x="269" y="413" width="2" height="2" fill="#e00000"/><rect x="273" y="406" width="2" height="9" fill="#000"/><rect x="271" y="413" width="2" height="2" fill="#000"/><rect x="275" y="408" width="2" height="2" fill="#000"/><rect x="279" y="405" width="2" height="5" fill="#000"/><rect x="277" y="407" width="2" height="2" fill="#000"/><rect x="281" y="406" width="2" height="2" fill="#000"/><rect x="285" y="403" width="2" height="7" fill="#000"/><rect x="283" y="406" width="2" height="2" fill="#000"/><rect x="287" y="404" width="2" height="2" fill="#000"/><rect x="291" y="403" width="2" height="17" fill="#e00000"/><rect x="289" y="403" width="2" height="2" fill="#e00000"/><rect x="293" y="414" width="2" height="2" fill="#e00000"/><rect x="297" y="405" width="2" height="9" fill="#000"/><rect x="295" y="412" width="2" height="2" fill="#000"/><rect x="299" y="406" width="2" height="2" fill="#000"/><rect x="303" y="402" width="2" height="8" fill="#000"/><rect x="301" y="406" width="2" height="2" fill="#000"/><rect x="305" y="404" width="2" height="2" fill="#000"/><rect x="309" y="401" width="2" height="9" fill="#e00000"/><rect x="307" y="404" width="2" height="2" fill="#e00000"/><rect x="311" y="406" width="2" height="2" fill="#e00000"/><rect x="315" y="413" width="2" height="33" fill="#e00000"/><rect x="313" y="413" width="2" height="2" fill="#e00000"/><rect x="317" y="426" width="2" height="2" fill="#e00000"/><rect x="321" y="420" width="2" height="10" fill="#000"/><rect x="319" y="426" width="2" height="2" fill="#000"/><rect x="323" y="420" width="2" height="2" fill="#000"/><rect x="327" y="419" width="2" height="10" fill="#e00000"/><rect x="325" y="420" width="2" height="2" fill="#e00000"/><rect x="329" y="424" width="2" height="2" fill="#e00000"/><rect x="333" y="422" width="2" height="10" fill="#000"/><rect x="331" y="425" width="2" height="2" fill="#000"/><rect x="335" y="423" width="2" height="2" fill="#000"/><rect x="339" y="423" width="2" height="16" fill="#e00000"/><rect x="337" y="423" width="2" height="2" fill="#e00000"/><rect x="341" y="431" width="2" height="2" fill="#e00000"/><rect x="345" y="424" width="2" height="9" fill="#000"/><rect x="343" y="431" width="2" height="2" fill="#000"/><rect x="347" y="425" width="2" height="2" fill="#000"/><rect x="351" y="419" width="2" height="7" fill="#000"/><rect x="349" y="424" width="2" height="2" fill="#000"/><rect x="353" y="419" width="2" height="2" fill="#000"/><rect x="357" y="417" width="2" height="3" fill="#000"/><rect x="355" y="418" width="2" height="2" fill="#000"/><rect x="359" y="417" width="2" height="2" fill="#000"/><rect x="363" y="416" width="2" height="4" fill="#000"/><rect x="361" y="418" width="2" height="2" fill="#000"/><rect x="365" y="418" width="2" height="2" fill="#000"/><rect x="369" y="417" width="2" height="10" fill="#e00000"/><rect x="367" y="418" width="2" height="2" fill="#e00000"/><rect x="371" y="421" width="2" height="2" fill="#e00000"/><rect x="375" y="420" width="2" height="4" fill="#000"/><rect x="373" y="421" width="2" height="2" fill="#000"/><rect x="377" y="420" width="2" height="2" fill="#000"/><rect x="381" y="416" width="2" height="5" fill="#000"/><rect x="379" y="419" width="2" height="2" fill="#000"/><rect x="383" y="417" width="2" height="2" fill="#000"/><rect x="387" y="416" width="2" height="10" fill="#e00000"/><rect x="385" y="416" width="2" height="2" fill="#e00000"/><rect x="389" y="425" width="2" height="2" fill="#e00000"/><rect x="393" y="422" width="2" height="6" fill="#000"/><rect x="391" y="425" width="2" height="2" fill="#000"/><rect x="395" y="424" width="2" height="2" fill="#000"/><rect x="399" y="426" width="2" height="6" fill="#e00000"/><rect x="397" y="425" width="2" height="2" fill="#e00000"/><rect x="401" y="427" width="2" height="2" fill="#e00000"/><rect x="405" y="425" width="2" height="4" fill="#000"/><rect x="403" y="428" width="2" height="2" fill="#000"/><rect x="407" y="426" width="2" height="2" fill="#000"/><rect x="411" y="428" width="2" height="6" fill="#e00000"/><rect x="409" y="428" width="2" height="2" fill="#e00000"/><rect x="413" y="429" width="2" height="2" fill="#e00000"/><rect x="417" y="427" width="2" height="6" fill="#000"/><rect x="415" y="430" width="2" height="2" fill="#000"/><rect x="419" y="427" width="2" height="2" fill="#000"/><rect x="423" y="419" width="2" height="7" fill="#000"/><rect x="421" y="424" width="2" height="2" fill="#000"/><rect x="425" y="419" width="2" height="2" fill="#000"/><rect x="429" y="419" width="2" height="5" fill="#000"/><rect x="427" y="419" width="2" height="2" fill="#000"/><rect x="431" y="419" width="2" height="2" fill="#000"/><rect x="435" y="416" width="2" height="6" fill="#e00000"/><rect x="433" y="417" width="2" height="2" fill="#e00000"/><rect x="437" y="418" width="2" height="2" fill="#e00000"/><rect x="441" y="415" width="2" height="5" fill="#000"/><rect x="439" y="417" width="2" height="2" fill="#000"/><rect x="443" y="416" width="2" height="2" fill="#000"/><rect x="447" y="414" width="2" height="4" fill="#000"/><rect x="445" y="414" width="2" height="2" fill="#000"/><rect x="449" y="416" width="2" height="2" fill="#000"/><rect x="453" y="415" width="2" height="7" fill="#e00000"/><rect x="451" y="415" width="2" height="2" fill="#e00000"/><rect x="455" y="419" width="2" height="2" fill="#e00000"/><rect x="459" y="418" width="2" height="6" fill="#e00000"/><rect x="457" y="419" width="2" height="2" fill="#e00000"/><rect x="461" y="421" width="2" height="2" fill="#e00000"/><rect x="465" y="422" width="2" height="7" fill="#e00000"/><rect x="463" y="423" width="2" height="2" fill="#e00000"/><rect x="467" y="425" width="2" height="2" fill="#e00000"/><rect x="471" y="424" width="2" height="5" fill="#000"/><rect x="469" y="425" width="2" height="2" fill="#000"/><rect x="473" y="425" width="2" height="2" fill="#000"/><rect x="477" y="424" width="2" height="6" fill="#e00000"/><rect x="475" y="424" width="2" height="2" fill="#e00000"/><rect x="479" y="424" width="2" height="2" fill="#e00000"/><rect x="483" y="421" width="2" height="4" fill="#000"/><rect x="481" y="424" width="2" height="2" fill="#000"/><rect x="485" y="423" width="2" height="2" fill="#000"/><rect x="489" y="414" width="2" height="10" fill="#000"/><rect x="487" y="422" width="2" height="2" fill="#000"/><rect x="491" y="414" width="2" height="2" fill="#000"/><rect x="495" y="409" width="2" height="7" fill="#000"/><rect x="493" y="414" width="2" height="2" fill="#000"/><rect x="497" y="409" width="2" height="2" fill="#000"/><rect x="501" y="401" width="2" height="13" fill="#000"/><rect x="499" y="408" width="2" height="2" fill="#000"/><rect x="503" y="401" width="2" height="2" fill="#000"/><rect x="507" y="395" width="2" height="7" fill="#000"/><rect x="505" y="400" width="2" height="2" fill="#000"/><rect x="509" y="395" width="2" height="2" fill="#000"/><rect x="513" y="382" width="2" height="10" fill="#000"/><rect x="511" y="390" width="2" height="2" fill="#000"/><rect x="515" y="383" width="2" height="2" fill="#000"/><rect x="519" y="374" width="2" height="11" fill="#000"/><rect x="517" y="382" width="2" height="2" fill="#000"/><rect x="521" y="381" width="2" height="2" fill="#000"/><rect x="525" y="366" width="2" height="14" fill="#000"/><rect x="523" y="378" width="2" height="2" fill="#000"/><rect x="527" y="366" width="2" height="2" fill="#000"/><rect x="531" y="354" width="2" height="14" fill="#000"/><rect x="529" y="365" width="2" height="2" fill="#000"/><rect x="533" y="353" width="2" height="2" fill="#000"/><rect x="537" y="323" width="2" height="30" fill="#000"/><rect x="535" y="351" width="2" height="2" fill="#000"/><rect x="539" y="350" width="2" height="2" fill="#000"/><rect x="543" y="344" width="2" height="42" fill="#e00000"/><rect x="541" y="353" width="2" height="2" fill="#e00000"/><rect x="545" y="367" width="2" height="2" fill="#e00000"/><rect x="549" y="363" width="2" height="13" fill="#e00000"/><rect x="547" y="368" width="2" height="2" fill="#e00000"/><rect x="551" y="370" width="2" height="2" fill="#e00000"/><rect x="555" y="354" width="2" height="17" fill="#000"/><rect x="553" y="369" width="2" height="2" fill="#000"/><rect x="557" y="355" width="2" height="2" fill="#000"/><rect x="561" y="350" width="2" height="7" fill="#000"/><rect x="559" y="353" width="2" height="2" fill="#000"/><rect x="563" y="351" width="2" height="2" fill="#000"/><rect x="567" y="348" width="2" height="14" fill="#e00000"/><rect x="565" y="349" width="2" height="2" fill="#e00000"/><rect x="569" y="357" width="2" height="2" fill="#e00000"/><rect x="573" y="356" width="2" height="14" fill="#e00000"/><rect x="571" y="357" width="2" height="2" fill="#e00000"/><rect x="575" y="358" width="2" height="2" fill="#e00000"/><rect x="579" y="355" width="2" height="9" fill="#e00000"/><rect x="577" y="357" width="2" height="2" fill="#e00000"/><rect x="581" y="362" width="2" height="2" fill="#e00000"/><rect x="585" y="353" width="2" height="15" fill="#000"/><rect x="583" y="362" width="2" height="2" fill="#000"/><rect x="587" y="353" width="2" height="2" fill="#000"/><rect x="591" y="352" width="2" height="10" fill="#e00000"/><rect x="589" y="353" width="2" height="2" fill="#e00000"/><rect x="593" y="354" width="2" height="2" fill="#e00000"/><rect x="597" y="352" width="2" height="24" fill="#e00000"/><rect x="595" y="353" width="2" height="2" fill="#e00000"/><rect x="599" y="361" width="2" height="2" fill="#e00000"/><rect x="603" y="354" width="2" height="13" fill="#000"/><rect x="601" y="364" width="2" height="2" fill="#000"/><rect x="605" y="357" width="2" height="2" fill="#000"/><rect x="609" y="351" width="2" height="11" fill="#000"/><rect x="607" y="359" width="2" height="2" fill="#000"/><rect x="611" y="353" width="2" height="2" fill="#000"/><rect x="615" y="345" width="2" height="7" fill="#000"/><rect x="613" y="351" width="2" height="2" fill="#000"/><rect x="617" y="345" width="2" height="2" fill="#000"/><rect x="621" y="340" width="2" height="5" fill="#000"/><rect x="619" y="342" width="2" height="2" fill="#000"/><rect x="623" y="341" width="2" height="2" fill="#000"/><rect x="627" y="335" width="2" height="8" fill="#000"/><rect x="625" y="341" width="2" height="2" fill="#000"/><rect x="629" y="335" width="2" height="2" fill="#000"/><rect x="633" y="324" width="2" height="10" fill="#000"/><rect x="631" y="333" width="2" height="2" fill="#000"/><rect x="635" y="324" width="2" height="2" fill="#000"/><rect x="639" y="316" width="2" height="7" fill="#000"/><rect x="637" y="321" width="2" height="2" fill="#000"/><rect x="641" y="316" width="2" height="2" fill="#000"/><rect x="645" y="311" width="2" height="7" fill="#e00000"/><rect x="643" y="316" width="2" height="2" fill="#e00000"/><rect x="647" y="316" width="2" height="2" fill="#e00000"/><rect x="651" y="315" width="2" height="9" fill="#e00000"/><rect x="649" y="318" width="2" height="2" fill="#e00000"/><rect x="653" y="319" width="2" height="2" fill="#e00000"/><rect x="657" y="316" width="2" height="6" fill="#000"/><rect x="655" y="319" width="2" height="2" fill="#000"/><rect x="659" y="318" width="2" height="2" fill="#000"/><rect x="663" y="316" width="2" height="11" fill="#e00000"/><rect x="661" y="318" width="2" height="2" fill="#e00000"/><rect x="665" y="321" width="2" height="2" fill="#e00000"/><rect x="669" y="322" width="2" height="4" fill="#e00000"/><rect x="667" y="321" width="2" height="2" fill="#e00000"/><rect x="671" y="325" width="2" height="2" fill="#e00000"/><rect x="675" y="318" width="2" height="10" fill="#000"/><rect x="673" y="323" width="2" height="2" fill="#000"/><rect x="677" y="319" width="2" height="2" fill="#000"/><rect x="681" y="308" width="2" height="10" fill="#000"/><rect x="679" y="317" width="2" height="2" fill="#000"/><rect x="683" y="307" width="2" height="2" fill="#000"/><rect x="687" y="302" width="2" height="14" fill="#e00000"/><rect x="685" y="307" width="2" height="2" fill="#e00000"/><rect x="689" y="311" width="2" height="2" fill="#e00000"/><rect x="693" y="312" width="2" height="6" fill="#e00000"/><rect x="691" y="311" width="2" height="2" fill="#e00000"/><rect x="695" y="313" width="2" height="2" fill="#e00000"/><rect x="699" y="309" width="2" height="6" fill="#000"/><rect x="697" y="312" width="2" height="2" fill="#000"/><rect x="701" y="311" width="2" height="2" fill="#000"/><rect x="705" y="311" width="2" height="15" fill="#e00000"/><rect x="703" y="313" width="2" height="2" fill="#e00000"/><rect x="707" y="319" width="2" height="2" fill="#e00000"/><rect x="711" y="318" width="2" height="9" fill="#e00000"/><rect x="709" y="318" width="2" height="2" fill="#e00000"/><rect x="713" y="320" width="2" height="2" fill="#e00000"/><rect x="717" y="320" width="2" height="6" fill="#e00000"/><rect x="715" y="320" width="2" height="2" fill="#e00000"/><rect x="719" y="323" width="2" height="2" fill="#e00000"/><rect x="723" y="314" width="2" height="9" fill="#000"/><rect x="721" y="322" width="2" height="2" fill="#000"/><rect x="725" y="315" width="2" height="2" fill="#000"/><rect x="729" y="309" width="2" height="5" fill="#000"/><rect x="727" y="313" width="2" height="2" fill="#000"/><rect x="731" y="309" width="2" height="2" fill="#000"/><rect x="735" y="298" width="2" height="11" fill="#000"/><rect x="733" y="307" width="2" height="2" fill="#000"/><rect x="737" y="297" width="2" height="2" fill="#000"/><rect x="741" y="290" width="2" height="8" fill="#000"/><rect x="739" y="296" width="2" height="2" fill="#000"/><rect x="743" y="291" width="2" height="2" fill="#000"/><rect x="747" y="278" width="2" height="19" fill="#000"/><rect x="745" y="289" width="2" height="2" fill="#000"/><rect x="749" y="279" width="2" height="2" fill="#000"/><rect x="753" y="270" width="2" height="10" fill="#000"/><rect x="751" y="279" width="2" height="2" fill="#000"/><rect x="755" y="271" width="2" height="2" fill="#000"/><rect x="759" y="268" width="2" height="7" fill="#000"/><rect x="757" y="273" width="2" height="2" fill="#000"/><rect x="761" y="268" width="2" height="2" fill="#000"/><rect x="765" y="250" width="2" height="18" fill="#000"/><rect x="763" y="265" width="2" height="2" fill="#000"/><rect x="767" y="251" width="2" height="2" fill="#000"/><rect x="771" y="241" width="2" height="24" fill="#e00000"/><rect x="769" y="249" width="2" height="2" fill="#e00000"/><rect x="773" y="257" width="2" height="2" fill="#e00000"/><rect x="777" y="258" width="2" height="14" fill="#e00000"/><rect x="775" y="258" width="2" height="2" fill="#e00000"/><rect x="779" y="264" width="2" height="2" fill="#e00000"/><rect x="783" y="263" width="2" height="17" fill="#e00000"/><rect x="781" y="264" width="2" height="2" fill="#e00000"/><rect x="785" y="270" width="2" height="2" fill="#e00000"/><rect x="789" y="248" width="2" height="23" fill="#000"/><rect x="787" y="269" width="2" height="2" fill="#000"/><rect x="791" y="248" width="2" height="2" fill="#000"/><rect x="795" y="244" width="2" height="8" fill="#000"/><rect x="793" y="249" width="2" height="2" fill="#000"/><rect x="797" y="245" width="2" height="2" fill="#000"/><rect x="801" y="230" width="2" height="16" fill="#000"/><rect x="799" y="243" width="2" height="2" fill="#000"/><rect x="803" y="231" width="2" height="2" fill="#000"/><rect x="807" y="228" width="2" height="6" fill="#e00000"/><rect x="805" y="231" width="2" height="2" fill="#e00000"/><rect x="809" y="232" width="2" height="2" fill="#e00000"/><rect x="813" y="218" width="2" height="15" fill="#000"/><rect x="811" y="232" width="2" height="2" fill="#000"/><rect x="815" y="217" width="2" height="2" fill="#000"/><rect x="819" y="203" width="2" height="15" fill="#000"/><rect x="817" y="216" width="2" height="2" fill="#000"/><rect x="821" y="206" width="2" height="2" fill="#000"/><rect x="825" y="194" width="2" height="14" fill="#000"/><rect x="823" y="206" width="2" height="2" fill="#000"/><rect x="827" y="203" width="2" height="2" fill="#000"/><rect x="831" y="188" width="2" height="20" fill="#000"/><rect x="829" y="202" width="2" height="2" fill="#000"/><rect x="833" y="190" width="2" height="2" fill="#000"/><rect x="837" y="182" width="2" height="11" fill="#000"/><rect x="835" y="190" width="2" height="2" fill="#000"/><rect x="839" y="187" width="2" height="2" fill="#000"/><rect x="843" y="184" width="2" height="14" fill="#000"/><rect x="841" y="185" width="2" height="2" fill="#000"/><rect x="845" y="185" width="2" height="2" fill="#000"/><rect x="849" y="177" width="2" height="7" fill="#000"/><rect x="847" y="182" width="2" height="2" fill="#000"/><rect x="851" y="179" width="2" height="2" fill="#000"/></g>
<polyline clip-path="url(#c3)" points="16.0,648.3 22.0,648.3 28.0,647.2 34.0,646.2 40.0,649.2 46.0,647.0 52.0,647.0 58.0,648.0 64.0,648.0 70.0,646.2 76.0,645.3 82.0,644.5 88.0,645.3 94.0,646.2 100.0,645.3 106.0,645.3 112.0,648.3 118.0,651.2 124.0,650.3 130.0,650.3 136.0,651.2 142.0,651.2 148.0,649.5 154.0,649.5 160.0,648.7 166.0,648.7 172.0,649.5 178.0,648.3 184.0,648.3 190.0,648.3 196.0,648.0 202.0,646.2 208.0,645.3 214.0,646.3 220.0,646.3 226.0,645.5 232.0,644.7 238.0,643.3 244.0,643.3 250.0,641.3 256.0,641.3 262.0,642.2 268.0,642.2 274.0,643.0 280.0,643.0 286.0,642.2 292.0,643.0 298.0,642.2 304.0,642.2 310.0,643.3 316.0,647.0 322.0,647.0 328.0,649.2 334.0,649.2 340.0,650.3 346.0,649.2 352.0,648.3 358.0,648.3 364.0,647.0 370.0,649.2 376.0,648.3 382.0,648.3 388.0,649.5 394.0,650.3 400.0,651.2 406.0,651.2 412.0,651.2 418.0,651.2 424.0,650.3 430.0,650.3 436.0,650.3 442.0,650.3 448.0,650.3 454.0,650.3 460.0,650.3 466.0,651.3 472.0,650.3 478.0,651.3 484.0,651.3 490.0,650.3 496.0,649.5 502.0,649.5 508.0,647.5 514.0,645.5 520.0,643.7 526.0,640.8 532.0,638.3 538.0,636.3 544.0,642.0 550.0,643.3 556.0,638.3 562.0,637.5 568.0,636.3 574.0,637.2 580.0,638.3 586.0,635.5 592.0,634.5 598.0,637.5 604.0,635.3 610.0,632.2 616.0,633.3 622.0,633.3 628.0,630.8 634.0,627.0 640.0,624.2 646.0,622.2 652.0,621.2 658.0,620.3 664.0,620.3 670.0,619.5 676.0,621.3 682.0,616.3 688.0,614.2 694.0,610.3 700.0,614.2 706.0,616.2 712.0,617.2 718.0,618.3 724.0,616.3 730.0,617.2 736.0,613.5 742.0,612.3 748.0,608.3 754.0,600.9 760.0,595.8 766.0,591.3 772.0,590.2 778.0,589.3 784.0,589.3 790.0,579.5 796.0,575.5 802.0,571.5 808.0,577.1 814.0,564.5 820.0,564.5 826.0,561.4 832.0,554.5 838.0,553.0 844.0,547.4 850.0,538.8" fill="none" stroke="#1c2b5a" stroke-width="2" stroke-linejoin="round"/>
<g shape-rendering="crispEdges">
<rect x="16.5" y="28.5" width="840" height="127" fill="none" stroke="#6e7383" stroke-width="1"/>
<rect x="16.5" y="155.5" width="840" height="362" fill="none" stroke="#6e7383" stroke-width="1"/>
<rect x="16.5" y="531.5" width="840" height="127" fill="none" stroke="#6e7383" stroke-width="1"/>
</g>
<g shape-rendering="crispEdges"><rect x="21" y="518" width="1" height="2" fill="#7d8295" fill-opacity="0.75"/><rect x="21" y="529" width="1" height="2" fill="#7d8295" fill-opacity="0.75"/><rect x="27" y="518" width="1" height="2" fill="#7d8295" fill-opacity="0.75"/><rect x="27" y="529" width="1" height="2" fill="#7d8295" fill-opacity="0.75"/><rect x="33" y="518" width="1" height="2" fill="#7d8295" fill-opacity="0.75"/><rect x="33" y="529" width="1" height="2" fill="#7d8295" fill-opacity="0.75"/><rect x="39" y="518" width="1" height="2" fill="#5f6478" fill-opacity="1"/><rect x="39" y="529" width="1" height="2" fill="#5f6478" fill-opacity="1"/><rect x="45" y="518" width="1" height="2" fill="#7d8295" fill-opacity="0.75"/><rect x="45" y="529" width="1" height="2" fill="#7d8295" fill-opacity="0.75"/><rect x="51" y="518" width="1" height="2" fill="#7d8295" fill-opacity="0.75"/><rect x="51" y="529" width="1" height="2" fill="#7d8295" fill-opacity="0.75"/><rect x="57" y="518" width="1" height="2" fill="#7d8295" fill-opacity="0.75"/><rect x="57" y="529" width="1" height="2" fill="#7d8295" fill-opacity="0.75"/><rect x="63" y="518" width="1" height="2" fill="#5f6478" fill-opacity="1"/><rect x="63" y="529" width="1" height="2" fill="#5f6478" fill-opacity="1"/><rect x="69" y="518" width="1" height="2" fill="#7d8295" fill-opacity="0.75"/><rect x="69" y="529" width="1" height="2" fill="#7d8295" fill-opacity="0.75"/><rect x="75" y="518" width="1" height="2" fill="#7d8295" fill-opacity="0.75"/><rect x="75" y="529" width="1" height="2" fill="#7d8295" fill-opacity="0.75"/><rect x="81" y="518" width="1" height="2" fill="#7d8295" fill-opacity="0.75"/><rect x="81" y="529" width="1" height="2" fill="#7d8295" fill-opacity="0.75"/><rect x="87" y="518" width="1" height="2" fill="#7d8295" fill-opacity="0.75"/><rect x="87" y="529" width="1" height="2" fill="#7d8295" fill-opacity="0.75"/><rect x="93" y="518" width="1" height="2" fill="#5f6478" fill-opacity="1"/><rect x="93" y="529" width="1" height="2" fill="#5f6478" fill-opacity="1"/><rect x="99" y="518" width="1" height="2" fill="#7d8295" fill-opacity="0.75"/><rect x="99" y="529" width="1" height="2" fill="#7d8295" fill-opacity="0.75"/><rect x="105" y="518" width="1" height="2" fill="#7d8295" fill-opacity="0.75"/><rect x="105" y="529" width="1" height="2" fill="#7d8295" fill-opacity="0.75"/><rect x="111" y="518" width="1" height="2" fill="#7d8295" fill-opacity="0.75"/><rect x="111" y="529" width="1" height="2" fill="#7d8295" fill-opacity="0.75"/><rect x="117" y="518" width="1" height="2" fill="#5f6478" fill-opacity="1"/><rect x="117" y="529" width="1" height="2" fill="#5f6478" fill-opacity="1"/><rect x="123" y="518" width="1" height="2" fill="#7d8295" fill-opacity="0.75"/><rect x="123" y="529" width="1" height="2" fill="#7d8295" fill-opacity="0.75"/><rect x="129" y="518" width="1" height="2" fill="#7d8295" fill-opacity="0.75"/><rect x="129" y="529" width="1" height="2" fill="#7d8295" fill-opacity="0.75"/><rect x="135" y="518" width="1" height="2" fill="#7d8295" fill-opacity="0.75"/><rect x="135" y="529" width="1" height="2" fill="#7d8295" fill-opacity="0.75"/><rect x="141" y="518" width="1" height="2" fill="#7d8295" fill-opacity="0.75"/><rect x="141" y="529" width="1" height="2" fill="#7d8295" fill-opacity="0.75"/><rect x="147" y="518" width="1" height="2" fill="#5f6478" fill-opacity="1"/><rect x="147" y="529" width="1" height="2" fill="#5f6478" fill-opacity="1"/><rect x="153" y="518" width="1" height="2" fill="#7d8295" fill-opacity="0.75"/><rect x="153" y="529" width="1" height="2" fill="#7d8295" fill-opacity="0.75"/><rect x="159" y="518" width="1" height="2" fill="#7d8295" fill-opacity="0.75"/><rect x="159" y="529" width="1" height="2" fill="#7d8295" fill-opacity="0.75"/><rect x="165" y="518" width="1" height="2" fill="#7d8295" fill-opacity="0.75"/><rect x="165" y="529" width="1" height="2" fill="#7d8295" fill-opacity="0.75"/><rect x="171" y="518" width="1" height="2" fill="#5f6478" fill-opacity="1"/><rect x="171" y="529" width="1" height="2" fill="#5f6478" fill-opacity="1"/><rect x="177" y="518" width="1" height="2" fill="#7d8295" fill-opacity="0.75"/><rect x="177" y="529" width="1" height="2" fill="#7d8295" fill-opacity="0.75"/><rect x="183" y="518" width="1" height="2" fill="#7d8295" fill-opacity="0.75"/><rect x="183" y="529" width="1" height="2" fill="#7d8295" fill-opacity="0.75"/><rect x="189" y="518" width="1" height="2" fill="#7d8295" fill-opacity="0.75"/><rect x="189" y="529" width="1" height="2" fill="#7d8295" fill-opacity="0.75"/><rect x="195" y="518" width="1" height="2" fill="#5f6478" fill-opacity="1"/><rect x="195" y="529" width="1" height="2" fill="#5f6478" fill-opacity="1"/><rect x="201" y="518" width="1" height="2" fill="#7d8295" fill-opacity="0.75"/><rect x="201" y="529" width="1" height="2" fill="#7d8295" fill-opacity="0.75"/><rect x="207" y="518" width="1" height="2" fill="#7d8295" fill-opacity="0.75"/><rect x="207" y="529" width="1" height="2" fill="#7d8295" fill-opacity="0.75"/><rect x="213" y="518" width="1" height="2" fill="#7d8295" fill-opacity="0.75"/><rect x="213" y="529" width="1" height="2" fill="#7d8295" fill-opacity="0.75"/><rect x="219" y="518" width="1" height="2" fill="#7d8295" fill-opacity="0.75"/><rect x="219" y="529" width="1" height="2" fill="#7d8295" fill-opacity="0.75"/><rect x="225" y="518" width="1" height="2" fill="#5f6478" fill-opacity="1"/><rect x="225" y="529" width="1" height="2" fill="#5f6478" fill-opacity="1"/><rect x="231" y="518" width="1" height="2" fill="#7d8295" fill-opacity="0.75"/><rect x="231" y="529" width="1" height="2" fill="#7d8295" fill-opacity="0.75"/><rect x="237" y="518" width="1" height="2" fill="#7d8295" fill-opacity="0.75"/><rect x="237" y="529" width="1" height="2" fill="#7d8295" fill-opacity="0.75"/><rect x="243" y="518" width="1" height="2" fill="#7d8295" fill-opacity="0.75"/><rect x="243" y="529" width="1" height="2" fill="#7d8295" fill-opacity="0.75"/><rect x="249" y="518" width="1" height="2" fill="#5f6478" fill-opacity="1"/><rect x="249" y="529" width="1" height="2" fill="#5f6478" fill-opacity="1"/><rect x="255" y="518" width="1" height="2" fill="#7d8295" fill-opacity="0.75"/><rect x="255" y="529" width="1" height="2" fill="#7d8295" fill-opacity="0.75"/><rect x="261" y="518" width="1" height="2" fill="#7d8295" fill-opacity="0.75"/><rect x="261" y="529" width="1" height="2" fill="#7d8295" fill-opacity="0.75"/><rect x="267" y="518" width="1" height="2" fill="#7d8295" fill-opacity="0.75"/><rect x="267" y="529" width="1" height="2" fill="#7d8295" fill-opacity="0.75"/><rect x="273" y="518" width="1" height="2" fill="#5f6478" fill-opacity="1"/><rect x="273" y="529" width="1" height="2" fill="#5f6478" fill-opacity="1"/><rect x="279" y="518" width="1" height="2" fill="#7d8295" fill-opacity="0.75"/><rect x="279" y="529" width="1" height="2" fill="#7d8295" fill-opacity="0.75"/><rect x="285" y="518" width="1" height="2" fill="#7d8295" fill-opacity="0.75"/><rect x="285" y="529" width="1" height="2" fill="#7d8295" fill-opacity="0.75"/><rect x="291" y="518" width="1" height="2" fill="#7d8295" fill-opacity="0.75"/><rect x="291" y="529" width="1" height="2" fill="#7d8295" fill-opacity="0.75"/><rect x="297" y="518" width="1" height="2" fill="#5f6478" fill-opacity="1"/><rect x="297" y="529" width="1" height="2" fill="#5f6478" fill-opacity="1"/><rect x="303" y="518" width="1" height="2" fill="#7d8295" fill-opacity="0.75"/><rect x="303" y="529" width="1" height="2" fill="#7d8295" fill-opacity="0.75"/><rect x="309" y="518" width="1" height="2" fill="#7d8295" fill-opacity="0.75"/><rect x="309" y="529" width="1" height="2" fill="#7d8295" fill-opacity="0.75"/><rect x="315" y="518" width="1" height="2" fill="#7d8295" fill-opacity="0.75"/><rect x="315" y="529" width="1" height="2" fill="#7d8295" fill-opacity="0.75"/><rect x="321" y="518" width="1" height="2" fill="#7d8295" fill-opacity="0.75"/><rect x="321" y="529" width="1" height="2" fill="#7d8295" fill-opacity="0.75"/><rect x="327" y="518" width="1" height="2" fill="#5f6478" fill-opacity="1"/><rect x="327" y="529" width="1" height="2" fill="#5f6478" fill-opacity="1"/><rect x="333" y="518" width="1" height="2" fill="#7d8295" fill-opacity="0.75"/><rect x="333" y="529" width="1" height="2" fill="#7d8295" fill-opacity="0.75"/><rect x="339" y="518" width="1" height="2" fill="#7d8295" fill-opacity="0.75"/><rect x="339" y="529" width="1" height="2" fill="#7d8295" fill-opacity="0.75"/><rect x="345" y="518" width="1" height="2" fill="#7d8295" fill-opacity="0.75"/><rect x="345" y="529" width="1" height="2" fill="#7d8295" fill-opacity="0.75"/><rect x="351" y="518" width="1" height="2" fill="#5f6478" fill-opacity="1"/><rect x="351" y="529" width="1" height="2" fill="#5f6478" fill-opacity="1"/><rect x="357" y="518" width="1" height="2" fill="#7d8295" fill-opacity="0.75"/><rect x="357" y="529" width="1" height="2" fill="#7d8295" fill-opacity="0.75"/><rect x="363" y="518" width="1" height="2" fill="#7d8295" fill-opacity="0.75"/><rect x="363" y="529" width="1" height="2" fill="#7d8295" fill-opacity="0.75"/><rect x="369" y="518" width="1" height="2" fill="#7d8295" fill-opacity="0.75"/><rect x="369" y="529" width="1" height="2" fill="#7d8295" fill-opacity="0.75"/><rect x="375" y="518" width="1" height="2" fill="#7d8295" fill-opacity="0.75"/><rect x="375" y="529" width="1" height="2" fill="#7d8295" fill-opacity="0.75"/><rect x="381" y="518" width="1" height="2" fill="#5f6478" fill-opacity="1"/><rect x="381" y="529" width="1" height="2" fill="#5f6478" fill-opacity="1"/><rect x="387" y="518" width="1" height="2" fill="#7d8295" fill-opacity="0.75"/><rect x="387" y="529" width="1" height="2" fill="#7d8295" fill-opacity="0.75"/><rect x="393" y="518" width="1" height="2" fill="#7d8295" fill-opacity="0.75"/><rect x="393" y="529" width="1" height="2" fill="#7d8295" fill-opacity="0.75"/><rect x="399" y="518" width="1" height="2" fill="#7d8295" fill-opacity="0.75"/><rect x="399" y="529" width="1" height="2" fill="#7d8295" fill-opacity="0.75"/><rect x="405" y="518" width="1" height="2" fill="#5f6478" fill-opacity="1"/><rect x="405" y="529" width="1" height="2" fill="#5f6478" fill-opacity="1"/><rect x="411" y="518" width="1" height="2" fill="#7d8295" fill-opacity="0.75"/><rect x="411" y="529" width="1" height="2" fill="#7d8295" fill-opacity="0.75"/><rect x="417" y="518" width="1" height="2" fill="#7d8295" fill-opacity="0.75"/><rect x="417" y="529" width="1" height="2" fill="#7d8295" fill-opacity="0.75"/><rect x="423" y="518" width="1" height="2" fill="#5f6478" fill-opacity="1"/><rect x="423" y="529" width="1" height="2" fill="#5f6478" fill-opacity="1"/><rect x="429" y="518" width="1" height="2" fill="#7d8295" fill-opacity="0.75"/><rect x="429" y="529" width="1" height="2" fill="#7d8295" fill-opacity="0.75"/><rect x="435" y="518" width="1" height="2" fill="#7d8295" fill-opacity="0.75"/><rect x="435" y="529" width="1" height="2" fill="#7d8295" fill-opacity="0.75"/><rect x="441" y="518" width="1" height="2" fill="#7d8295" fill-opacity="0.75"/><rect x="441" y="529" width="1" height="2" fill="#7d8295" fill-opacity="0.75"/><rect x="447" y="518" width="1" height="2" fill="#7d8295" fill-opacity="0.75"/><rect x="447" y="529" width="1" height="2" fill="#7d8295" fill-opacity="0.75"/><rect x="453" y="518" width="1" height="2" fill="#5f6478" fill-opacity="1"/><rect x="453" y="529" width="1" height="2" fill="#5f6478" fill-opacity="1"/><rect x="459" y="518" width="1" height="2" fill="#7d8295" fill-opacity="0.75"/><rect x="459" y="529" width="1" height="2" fill="#7d8295" fill-opacity="0.75"/><rect x="465" y="518" width="1" height="2" fill="#7d8295" fill-opacity="0.75"/><rect x="465" y="529" width="1" height="2" fill="#7d8295" fill-opacity="0.75"/><rect x="471" y="518" width="1" height="2" fill="#7d8295" fill-opacity="0.75"/><rect x="471" y="529" width="1" height="2" fill="#7d8295" fill-opacity="0.75"/><rect x="477" y="518" width="1" height="2" fill="#5f6478" fill-opacity="1"/><rect x="477" y="529" width="1" height="2" fill="#5f6478" fill-opacity="1"/><rect x="483" y="518" width="1" height="2" fill="#7d8295" fill-opacity="0.75"/><rect x="483" y="529" width="1" height="2" fill="#7d8295" fill-opacity="0.75"/><rect x="489" y="518" width="1" height="2" fill="#7d8295" fill-opacity="0.75"/><rect x="489" y="529" width="1" height="2" fill="#7d8295" fill-opacity="0.75"/><rect x="495" y="518" width="1" height="2" fill="#7d8295" fill-opacity="0.75"/><rect x="495" y="529" width="1" height="2" fill="#7d8295" fill-opacity="0.75"/><rect x="501" y="518" width="1" height="2" fill="#5f6478" fill-opacity="1"/><rect x="501" y="529" width="1" height="2" fill="#5f6478" fill-opacity="1"/><rect x="507" y="518" width="1" height="2" fill="#7d8295" fill-opacity="0.75"/><rect x="507" y="529" width="1" height="2" fill="#7d8295" fill-opacity="0.75"/><rect x="513" y="518" width="1" height="2" fill="#7d8295" fill-opacity="0.75"/><rect x="513" y="529" width="1" height="2" fill="#7d8295" fill-opacity="0.75"/><rect x="519" y="518" width="1" height="2" fill="#7d8295" fill-opacity="0.75"/><rect x="519" y="529" width="1" height="2" fill="#7d8295" fill-opacity="0.75"/><rect x="525" y="518" width="1" height="2" fill="#7d8295" fill-opacity="0.75"/><rect x="525" y="529" width="1" height="2" fill="#7d8295" fill-opacity="0.75"/><rect x="531" y="518" width="1" height="2" fill="#5f6478" fill-opacity="1"/><rect x="531" y="529" width="1" height="2" fill="#5f6478" fill-opacity="1"/><rect x="537" y="518" width="1" height="2" fill="#7d8295" fill-opacity="0.75"/><rect x="537" y="529" width="1" height="2" fill="#7d8295" fill-opacity="0.75"/><rect x="543" y="518" width="1" height="2" fill="#7d8295" fill-opacity="0.75"/><rect x="543" y="529" width="1" height="2" fill="#7d8295" fill-opacity="0.75"/><rect x="549" y="518" width="1" height="2" fill="#7d8295" fill-opacity="0.75"/><rect x="549" y="529" width="1" height="2" fill="#7d8295" fill-opacity="0.75"/><rect x="555" y="518" width="1" height="2" fill="#5f6478" fill-opacity="1"/><rect x="555" y="529" width="1" height="2" fill="#5f6478" fill-opacity="1"/><rect x="561" y="518" width="1" height="2" fill="#7d8295" fill-opacity="0.75"/><rect x="561" y="529" width="1" height="2" fill="#7d8295" fill-opacity="0.75"/><rect x="567" y="518" width="1" height="2" fill="#7d8295" fill-opacity="0.75"/><rect x="567" y="529" width="1" height="2" fill="#7d8295" fill-opacity="0.75"/><rect x="573" y="518" width="1" height="2" fill="#7d8295" fill-opacity="0.75"/><rect x="573" y="529" width="1" height="2" fill="#7d8295" fill-opacity="0.75"/><rect x="579" y="518" width="1" height="2" fill="#7d8295" fill-opacity="0.75"/><rect x="579" y="529" width="1" height="2" fill="#7d8295" fill-opacity="0.75"/><rect x="585" y="518" width="1" height="2" fill="#5f6478" fill-opacity="1"/><rect x="585" y="529" width="1" height="2" fill="#5f6478" fill-opacity="1"/><rect x="591" y="518" width="1" height="2" fill="#7d8295" fill-opacity="0.75"/><rect x="591" y="529" width="1" height="2" fill="#7d8295" fill-opacity="0.75"/><rect x="597" y="518" width="1" height="2" fill="#7d8295" fill-opacity="0.75"/><rect x="597" y="529" width="1" height="2" fill="#7d8295" fill-opacity="0.75"/><rect x="603" y="518" width="1" height="2" fill="#7d8295" fill-opacity="0.75"/><rect x="603" y="529" width="1" height="2" fill="#7d8295" fill-opacity="0.75"/><rect x="609" y="518" width="1" height="2" fill="#5f6478" fill-opacity="1"/><rect x="609" y="529" width="1" height="2" fill="#5f6478" fill-opacity="1"/><rect x="615" y="518" width="1" height="2" fill="#7d8295" fill-opacity="0.75"/><rect x="615" y="529" width="1" height="2" fill="#7d8295" fill-opacity="0.75"/><rect x="621" y="518" width="1" height="2" fill="#7d8295" fill-opacity="0.75"/><rect x="621" y="529" width="1" height="2" fill="#7d8295" fill-opacity="0.75"/><rect x="627" y="518" width="1" height="2" fill="#7d8295" fill-opacity="0.75"/><rect x="627" y="529" width="1" height="2" fill="#7d8295" fill-opacity="0.75"/><rect x="633" y="518" width="1" height="2" fill="#5f6478" fill-opacity="1"/><rect x="633" y="529" width="1" height="2" fill="#5f6478" fill-opacity="1"/><rect x="639" y="518" width="1" height="2" fill="#7d8295" fill-opacity="0.75"/><rect x="639" y="529" width="1" height="2" fill="#7d8295" fill-opacity="0.75"/><rect x="645" y="518" width="1" height="2" fill="#7d8295" fill-opacity="0.75"/><rect x="645" y="529" width="1" height="2" fill="#7d8295" fill-opacity="0.75"/><rect x="651" y="518" width="1" height="2" fill="#7d8295" fill-opacity="0.75"/><rect x="651" y="529" width="1" height="2" fill="#7d8295" fill-opacity="0.75"/><rect x="657" y="518" width="1" height="2" fill="#5f6478" fill-opacity="1"/><rect x="657" y="529" width="1" height="2" fill="#5f6478" fill-opacity="1"/><rect x="663" y="518" width="1" height="2" fill="#7d8295" fill-opacity="0.75"/><rect x="663" y="529" width="1" height="2" fill="#7d8295" fill-opacity="0.75"/><rect x="669" y="518" width="1" height="2" fill="#7d8295" fill-opacity="0.75"/><rect x="669" y="529" width="1" height="2" fill="#7d8295" fill-opacity="0.75"/><rect x="675" y="518" width="1" height="2" fill="#7d8295" fill-opacity="0.75"/><rect x="675" y="529" width="1" height="2" fill="#7d8295" fill-opacity="0.75"/><rect x="681" y="518" width="1" height="2" fill="#7d8295" fill-opacity="0.75"/><rect x="681" y="529" width="1" height="2" fill="#7d8295" fill-opacity="0.75"/><rect x="687" y="518" width="1" height="2" fill="#5f6478" fill-opacity="1"/><rect x="687" y="529" width="1" height="2" fill="#5f6478" fill-opacity="1"/><rect x="693" y="518" width="1" height="2" fill="#7d8295" fill-opacity="0.75"/><rect x="693" y="529" width="1" height="2" fill="#7d8295" fill-opacity="0.75"/><rect x="699" y="518" width="1" height="2" fill="#7d8295" fill-opacity="0.75"/><rect x="699" y="529" width="1" height="2" fill="#7d8295" fill-opacity="0.75"/><rect x="705" y="518" width="1" height="2" fill="#7d8295" fill-opacity="0.75"/><rect x="705" y="529" width="1" height="2" fill="#7d8295" fill-opacity="0.75"/><rect x="711" y="518" width="1" height="2" fill="#5f6478" fill-opacity="1"/><rect x="711" y="529" width="1" height="2" fill="#5f6478" fill-opacity="1"/><rect x="717" y="518" width="1" height="2" fill="#7d8295" fill-opacity="0.75"/><rect x="717" y="529" width="1" height="2" fill="#7d8295" fill-opacity="0.75"/><rect x="723" y="518" width="1" height="2" fill="#7d8295" fill-opacity="0.75"/><rect x="723" y="529" width="1" height="2" fill="#7d8295" fill-opacity="0.75"/><rect x="729" y="518" width="1" height="2" fill="#7d8295" fill-opacity="0.75"/><rect x="729" y="529" width="1" height="2" fill="#7d8295" fill-opacity="0.75"/><rect x="735" y="518" width="1" height="2" fill="#5f6478" fill-opacity="1"/><rect x="735" y="529" width="1" height="2" fill="#5f6478" fill-opacity="1"/><rect x="741" y="518" width="1" height="2" fill="#7d8295" fill-opacity="0.75"/><rect x="741" y="529" width="1" height="2" fill="#7d8295" fill-opacity="0.75"/><rect x="747" y="518" width="1" height="2" fill="#7d8295" fill-opacity="0.75"/><rect x="747" y="529" width="1" height="2" fill="#7d8295" fill-opacity="0.75"/><rect x="753" y="518" width="1" height="2" fill="#7d8295" fill-opacity="0.75"/><rect x="753" y="529" width="1" height="2" fill="#7d8295" fill-opacity="0.75"/><rect x="759" y="518" width="1" height="2" fill="#7d8295" fill-opacity="0.75"/><rect x="759" y="529" width="1" height="2" fill="#7d8295" fill-opacity="0.75"/><rect x="765" y="518" width="1" height="2" fill="#5f6478" fill-opacity="1"/><rect x="765" y="529" width="1" height="2" fill="#5f6478" fill-opacity="1"/><rect x="771" y="518" width="1" height="2" fill="#7d8295" fill-opacity="0.75"/><rect x="771" y="529" width="1" height="2" fill="#7d8295" fill-opacity="0.75"/><rect x="777" y="518" width="1" height="2" fill="#7d8295" fill-opacity="0.75"/><rect x="777" y="529" width="1" height="2" fill="#7d8295" fill-opacity="0.75"/><rect x="783" y="518" width="1" height="2" fill="#7d8295" fill-opacity="0.75"/><rect x="783" y="529" width="1" height="2" fill="#7d8295" fill-opacity="0.75"/><rect x="789" y="518" width="1" height="2" fill="#5f6478" fill-opacity="1"/><rect x="789" y="529" width="1" height="2" fill="#5f6478" fill-opacity="1"/><rect x="795" y="518" width="1" height="2" fill="#7d8295" fill-opacity="0.75"/><rect x="795" y="529" width="1" height="2" fill="#7d8295" fill-opacity="0.75"/><rect x="801" y="518" width="1" height="2" fill="#7d8295" fill-opacity="0.75"/><rect x="801" y="529" width="1" height="2" fill="#7d8295" fill-opacity="0.75"/><rect x="807" y="518" width="1" height="2" fill="#7d8295" fill-opacity="0.75"/><rect x="807" y="529" width="1" height="2" fill="#7d8295" fill-opacity="0.75"/><rect x="813" y="518" width="1" height="2" fill="#7d8295" fill-opacity="0.75"/><rect x="813" y="529" width="1" height="2" fill="#7d8295" fill-opacity="0.75"/><rect x="819" y="518" width="1" height="2" fill="#5f6478" fill-opacity="1"/><rect x="819" y="529" width="1" height="2" fill="#5f6478" fill-opacity="1"/><rect x="825" y="518" width="1" height="2" fill="#7d8295" fill-opacity="0.75"/><rect x="825" y="529" width="1" height="2" fill="#7d8295" fill-opacity="0.75"/><rect x="831" y="518" width="1" height="2" fill="#7d8295" fill-opacity="0.75"/><rect x="831" y="529" width="1" height="2" fill="#7d8295" fill-opacity="0.75"/><rect x="837" y="518" width="1" height="2" fill="#7d8295" fill-opacity="0.75"/><rect x="837" y="529" width="1" height="2" fill="#7d8295" fill-opacity="0.75"/><rect x="843" y="518" width="1" height="2" fill="#5f6478" fill-opacity="1"/><rect x="843" y="529" width="1" height="2" fill="#5f6478" fill-opacity="1"/><rect x="849" y="518" width="1" height="2" fill="#7d8295" fill-opacity="0.75"/><rect x="849" y="529" width="1" height="2" fill="#7d8295" fill-opacity="0.75"/></g><text x="40.0" y="528" font-size="9.6" text-anchor="middle">M</text><text x="64.0" y="528" font-size="9.6" text-anchor="middle">J</text><text x="94.0" y="528" font-size="9.6" text-anchor="middle">J</text><text x="118.0" y="528" font-size="9.6" text-anchor="middle">A</text><text x="148.0" y="528" font-size="9.6" text-anchor="middle">S</text><text x="172.0" y="528" font-size="9.6" text-anchor="middle">O</text><text x="196.0" y="528" font-size="9.6" text-anchor="middle">N</text><text x="226.0" y="528" font-size="9.6" text-anchor="middle">D</text><text x="249.5" y="528" font-size="10" font-weight="bold" text-anchor="middle">21</text><text x="274.0" y="528" font-size="9.6" text-anchor="middle">F</text><text x="298.0" y="528" font-size="9.6" text-anchor="middle">M</text><text x="328.0" y="528" font-size="9.6" text-anchor="middle">A</text><text x="352.0" y="528" font-size="9.6" text-anchor="middle">M</text><text x="382.0" y="528" font-size="9.6" text-anchor="middle">J</text><text x="406.0" y="528" font-size="9.6" text-anchor="middle">J</text><text x="424.0" y="528" font-size="9.6" text-anchor="middle">A</text><text x="454.0" y="528" font-size="9.6" text-anchor="middle">S</text><text x="478.0" y="528" font-size="9.6" text-anchor="middle">O</text><text x="502.0" y="528" font-size="9.6" text-anchor="middle">N</text><text x="532.0" y="528" font-size="9.6" text-anchor="middle">D</text><text x="555.5" y="528" font-size="10" font-weight="bold" text-anchor="middle">22</text><text x="586.0" y="528" font-size="9.6" text-anchor="middle">F</text><text x="610.0" y="528" font-size="9.6" text-anchor="middle">M</text><text x="634.0" y="528" font-size="9.6" text-anchor="middle">A</text><text x="658.0" y="528" font-size="9.6" text-anchor="middle">M</text><text x="688.0" y="528" font-size="9.6" text-anchor="middle">J</text><text x="712.0" y="528" font-size="9.6" text-anchor="middle">J</text><text x="736.0" y="528" font-size="9.6" text-anchor="middle">A</text><text x="766.0" y="528" font-size="9.6" text-anchor="middle">S</text><text x="790.0" y="528" font-size="9.6" text-anchor="middle">O</text><text x="820.0" y="528" font-size="9.6" text-anchor="middle">N</text><text x="844.0" y="528" font-size="9.6" text-anchor="middle">D</text>
<g shape-rendering="crispEdges"><rect x="21" y="659" width="1" height="2" fill="#7d8295" fill-opacity="0.75"/><rect x="27" y="659" width="1" height="2" fill="#7d8295" fill-opacity="0.75"/><rect x="33" y="659" width="1" height="2" fill="#7d8295" fill-opacity="0.75"/><rect x="39" y="659" width="1" height="2" fill="#5f6478" fill-opacity="1"/><rect x="45" y="659" width="1" height="2" fill="#7d8295" fill-opacity="0.75"/><rect x="51" y="659" width="1" height="2" fill="#7d8295" fill-opacity="0.75"/><rect x="57" y="659" width="1" height="2" fill="#7d8295" fill-opacity="0.75"/><rect x="63" y="659" width="1" height="2" fill="#5f6478" fill-opacity="1"/><rect x="69" y="659" width="1" height="2" fill="#7d8295" fill-opacity="0.75"/><rect x="75" y="659" width="1" height="2" fill="#7d8295" fill-opacity="0.75"/><rect x="81" y="659" width="1" height="2" fill="#7d8295" fill-opacity="0.75"/><rect x="87" y="659" width="1" height="2" fill="#7d8295" fill-opacity="0.75"/><rect x="93" y="659" width="1" height="2" fill="#5f6478" fill-opacity="1"/><rect x="99" y="659" width="1" height="2" fill="#7d8295" fill-opacity="0.75"/><rect x="105" y="659" width="1" height="2" fill="#7d8295" fill-opacity="0.75"/><rect x="111" y="659" width="1" height="2" fill="#7d8295" fill-opacity="0.75"/><rect x="117" y="659" width="1" height="2" fill="#5f6478" fill-opacity="1"/><rect x="123" y="659" width="1" height="2" fill="#7d8295" fill-opacity="0.75"/><rect x="129" y="659" width="1" height="2" fill="#7d8295" fill-opacity="0.75"/><rect x="135" y="659" width="1" height="2" fill="#7d8295" fill-opacity="0.75"/><rect x="141" y="659" width="1" height="2" fill="#7d8295" fill-opacity="0.75"/><rect x="147" y="659" width="1" height="2" fill="#5f6478" fill-opacity="1"/><rect x="153" y="659" width="1" height="2" fill="#7d8295" fill-opacity="0.75"/><rect x="159" y="659" width="1" height="2" fill="#7d8295" fill-opacity="0.75"/><rect x="165" y="659" width="1" height="2" fill="#7d8295" fill-opacity="0.75"/><rect x="171" y="659" width="1" height="2" fill="#5f6478" fill-opacity="1"/><rect x="177" y="659" width="1" height="2" fill="#7d8295" fill-opacity="0.75"/><rect x="183" y="659" width="1" height="2" fill="#7d8295" fill-opacity="0.75"/><rect x="189" y="659" width="1" height="2" fill="#7d8295" fill-opacity="0.75"/><rect x="195" y="659" width="1" height="2" fill="#5f6478" fill-opacity="1"/><rect x="201" y="659" width="1" height="2" fill="#7d8295" fill-opacity="0.75"/><rect x="207" y="659" width="1" height="2" fill="#7d8295" fill-opacity="0.75"/><rect x="213" y="659" width="1" height="2" fill="#7d8295" fill-opacity="0.75"/><rect x="219" y="659" width="1" height="2" fill="#7d8295" fill-opacity="0.75"/><rect x="225" y="659" width="1" height="2" fill="#5f6478" fill-opacity="1"/><rect x="231" y="659" width="1" height="2" fill="#7d8295" fill-opacity="0.75"/><rect x="237" y="659" width="1" height="2" fill="#7d8295" fill-opacity="0.75"/><rect x="243" y="659" width="1" height="2" fill="#7d8295" fill-opacity="0.75"/><rect x="249" y="659" width="1" height="2" fill="#5f6478" fill-opacity="1"/><rect x="255" y="659" width="1" height="2" fill="#7d8295" fill-opacity="0.75"/><rect x="261" y="659" width="1" height="2" fill="#7d8295" fill-opacity="0.75"/><rect x="267" y="659" width="1" height="2" fill="#7d8295" fill-opacity="0.75"/><rect x="273" y="659" width="1" height="2" fill="#5f6478" fill-opacity="1"/><rect x="279" y="659" width="1" height="2" fill="#7d8295" fill-opacity="0.75"/><rect x="285" y="659" width="1" height="2" fill="#7d8295" fill-opacity="0.75"/><rect x="291" y="659" width="1" height="2" fill="#7d8295" fill-opacity="0.75"/><rect x="297" y="659" width="1" height="2" fill="#5f6478" fill-opacity="1"/><rect x="303" y="659" width="1" height="2" fill="#7d8295" fill-opacity="0.75"/><rect x="309" y="659" width="1" height="2" fill="#7d8295" fill-opacity="0.75"/><rect x="315" y="659" width="1" height="2" fill="#7d8295" fill-opacity="0.75"/><rect x="321" y="659" width="1" height="2" fill="#7d8295" fill-opacity="0.75"/><rect x="327" y="659" width="1" height="2" fill="#5f6478" fill-opacity="1"/><rect x="333" y="659" width="1" height="2" fill="#7d8295" fill-opacity="0.75"/><rect x="339" y="659" width="1" height="2" fill="#7d8295" fill-opacity="0.75"/><rect x="345" y="659" width="1" height="2" fill="#7d8295" fill-opacity="0.75"/><rect x="351" y="659" width="1" height="2" fill="#5f6478" fill-opacity="1"/><rect x="357" y="659" width="1" height="2" fill="#7d8295" fill-opacity="0.75"/><rect x="363" y="659" width="1" height="2" fill="#7d8295" fill-opacity="0.75"/><rect x="369" y="659" width="1" height="2" fill="#7d8295" fill-opacity="0.75"/><rect x="375" y="659" width="1" height="2" fill="#7d8295" fill-opacity="0.75"/><rect x="381" y="659" width="1" height="2" fill="#5f6478" fill-opacity="1"/><rect x="387" y="659" width="1" height="2" fill="#7d8295" fill-opacity="0.75"/><rect x="393" y="659" width="1" height="2" fill="#7d8295" fill-opacity="0.75"/><rect x="399" y="659" width="1" height="2" fill="#7d8295" fill-opacity="0.75"/><rect x="405" y="659" width="1" height="2" fill="#5f6478" fill-opacity="1"/><rect x="411" y="659" width="1" height="2" fill="#7d8295" fill-opacity="0.75"/><rect x="417" y="659" width="1" height="2" fill="#7d8295" fill-opacity="0.75"/><rect x="423" y="659" width="1" height="2" fill="#5f6478" fill-opacity="1"/><rect x="429" y="659" width="1" height="2" fill="#7d8295" fill-opacity="0.75"/><rect x="435" y="659" width="1" height="2" fill="#7d8295" fill-opacity="0.75"/><rect x="441" y="659" width="1" height="2" fill="#7d8295" fill-opacity="0.75"/><rect x="447" y="659" width="1" height="2" fill="#7d8295" fill-opacity="0.75"/><rect x="453" y="659" width="1" height="2" fill="#5f6478" fill-opacity="1"/><rect x="459" y="659" width="1" height="2" fill="#7d8295" fill-opacity="0.75"/><rect x="465" y="659" width="1" height="2" fill="#7d8295" fill-opacity="0.75"/><rect x="471" y="659" width="1" height="2" fill="#7d8295" fill-opacity="0.75"/><rect x="477" y="659" width="1" height="2" fill="#5f6478" fill-opacity="1"/><rect x="483" y="659" width="1" height="2" fill="#7d8295" fill-opacity="0.75"/><rect x="489" y="659" width="1" height="2" fill="#7d8295" fill-opacity="0.75"/><rect x="495" y="659" width="1" height="2" fill="#7d8295" fill-opacity="0.75"/><rect x="501" y="659" width="1" height="2" fill="#5f6478" fill-opacity="1"/><rect x="507" y="659" width="1" height="2" fill="#7d8295" fill-opacity="0.75"/><rect x="513" y="659" width="1" height="2" fill="#7d8295" fill-opacity="0.75"/><rect x="519" y="659" width="1" height="2" fill="#7d8295" fill-opacity="0.75"/><rect x="525" y="659" width="1" height="2" fill="#7d8295" fill-opacity="0.75"/><rect x="531" y="659" width="1" height="2" fill="#5f6478" fill-opacity="1"/><rect x="537" y="659" width="1" height="2" fill="#7d8295" fill-opacity="0.75"/><rect x="543" y="659" width="1" height="2" fill="#7d8295" fill-opacity="0.75"/><rect x="549" y="659" width="1" height="2" fill="#7d8295" fill-opacity="0.75"/><rect x="555" y="659" width="1" height="2" fill="#5f6478" fill-opacity="1"/><rect x="561" y="659" width="1" height="2" fill="#7d8295" fill-opacity="0.75"/><rect x="567" y="659" width="1" height="2" fill="#7d8295" fill-opacity="0.75"/><rect x="573" y="659" width="1" height="2" fill="#7d8295" fill-opacity="0.75"/><rect x="579" y="659" width="1" height="2" fill="#7d8295" fill-opacity="0.75"/><rect x="585" y="659" width="1" height="2" fill="#5f6478" fill-opacity="1"/><rect x="591" y="659" width="1" height="2" fill="#7d8295" fill-opacity="0.75"/><rect x="597" y="659" width="1" height="2" fill="#7d8295" fill-opacity="0.75"/><rect x="603" y="659" width="1" height="2" fill="#7d8295" fill-opacity="0.75"/><rect x="609" y="659" width="1" height="2" fill="#5f6478" fill-opacity="1"/><rect x="615" y="659" width="1" height="2" fill="#7d8295" fill-opacity="0.75"/><rect x="621" y="659" width="1" height="2" fill="#7d8295" fill-opacity="0.75"/><rect x="627" y="659" width="1" height="2" fill="#7d8295" fill-opacity="0.75"/><rect x="633" y="659" width="1" height="2" fill="#5f6478" fill-opacity="1"/><rect x="639" y="659" width="1" height="2" fill="#7d8295" fill-opacity="0.75"/><rect x="645" y="659" width="1" height="2" fill="#7d8295" fill-opacity="0.75"/><rect x="651" y="659" width="1" height="2" fill="#7d8295" fill-opacity="0.75"/><rect x="657" y="659" width="1" height="2" fill="#5f6478" fill-opacity="1"/><rect x="663" y="659" width="1" height="2" fill="#7d8295" fill-opacity="0.75"/><rect x="669" y="659" width="1" height="2" fill="#7d8295" fill-opacity="0.75"/><rect x="675" y="659" width="1" height="2" fill="#7d8295" fill-opacity="0.75"/><rect x="681" y="659" width="1" height="2" fill="#7d8295" fill-opacity="0.75"/><rect x="687" y="659" width="1" height="2" fill="#5f6478" fill-opacity="1"/><rect x="693" y="659" width="1" height="2" fill="#7d8295" fill-opacity="0.75"/><rect x="699" y="659" width="1" height="2" fill="#7d8295" fill-opacity="0.75"/><rect x="705" y="659" width="1" height="2" fill="#7d8295" fill-opacity="0.75"/><rect x="711" y="659" width="1" height="2" fill="#5f6478" fill-opacity="1"/><rect x="717" y="659" width="1" height="2" fill="#7d8295" fill-opacity="0.75"/><rect x="723" y="659" width="1" height="2" fill="#7d8295" fill-opacity="0.75"/><rect x="729" y="659" width="1" height="2" fill="#7d8295" fill-opacity="0.75"/><rect x="735" y="659" width="1" height="2" fill="#5f6478" fill-opacity="1"/><rect x="741" y="659" width="1" height="2" fill="#7d8295" fill-opacity="0.75"/><rect x="747" y="659" width="1" height="2" fill="#7d8295" fill-opacity="0.75"/><rect x="753" y="659" width="1" height="2" fill="#7d8295" fill-opacity="0.75"/><rect x="759" y="659" width="1" height="2" fill="#7d8295" fill-opacity="0.75"/><rect x="765" y="659" width="1" height="2" fill="#5f6478" fill-opacity="1"/><rect x="771" y="659" width="1" height="2" fill="#7d8295" fill-opacity="0.75"/><rect x="777" y="659" width="1" height="2" fill="#7d8295" fill-opacity="0.75"/><rect x="783" y="659" width="1" height="2" fill="#7d8295" fill-opacity="0.75"/><rect x="789" y="659" width="1" height="2" fill="#5f6478" fill-opacity="1"/><rect x="795" y="659" width="1" height="2" fill="#7d8295" fill-opacity="0.75"/><rect x="801" y="659" width="1" height="2" fill="#7d8295" fill-opacity="0.75"/><rect x="807" y="659" width="1" height="2" fill="#7d8295" fill-opacity="0.75"/><rect x="813" y="659" width="1" height="2" fill="#7d8295" fill-opacity="0.75"/><rect x="819" y="659" width="1" height="2" fill="#5f6478" fill-opacity="1"/><rect x="825" y="659" width="1" height="2" fill="#7d8295" fill-opacity="0.75"/><rect x="831" y="659" width="1" height="2" fill="#7d8295" fill-opacity="0.75"/><rect x="837" y="659" width="1" height="2" fill="#7d8295" fill-opacity="0.75"/><rect x="843" y="659" width="1" height="2" fill="#5f6478" fill-opacity="1"/><rect x="849" y="659" width="1" height="2" fill="#7d8295" fill-opacity="0.75"/></g><text x="40.0" y="667.6" font-size="9.6" text-anchor="middle">M</text><text x="64.0" y="667.6" font-size="9.6" text-anchor="middle">J</text><text x="94.0" y="667.6" font-size="9.6" text-anchor="middle">J</text><text x="118.0" y="667.6" font-size="9.6" text-anchor="middle">A</text><text x="148.0" y="667.6" font-size="9.6" text-anchor="middle">S</text><text x="172.0" y="667.6" font-size="9.6" text-anchor="middle">O</text><text x="196.0" y="667.6" font-size="9.6" text-anchor="middle">N</text><text x="226.0" y="667.6" font-size="9.6" text-anchor="middle">D</text><text x="249.5" y="667.6" font-size="10" font-weight="bold" text-anchor="middle">21</text><text x="274.0" y="667.6" font-size="9.6" text-anchor="middle">F</text><text x="298.0" y="667.6" font-size="9.6" text-anchor="middle">M</text><text x="328.0" y="667.6" font-size="9.6" text-anchor="middle">A</text><text x="352.0" y="667.6" font-size="9.6" text-anchor="middle">M</text><text x="382.0" y="667.6" font-size="9.6" text-anchor="middle">J</text><text x="406.0" y="667.6" font-size="9.6" text-anchor="middle">J</text><text x="424.0" y="667.6" font-size="9.6" text-anchor="middle">A</text><text x="454.0" y="667.6" font-size="9.6" text-anchor="middle">S</text><text x="478.0" y="667.6" font-size="9.6" text-anchor="middle">O</text><text x="502.0" y="667.6" font-size="9.6" text-anchor="middle">N</text><text x="532.0" y="667.6" font-size="9.6" text-anchor="middle">D</text><text x="555.5" y="667.6" font-size="10" font-weight="bold" text-anchor="middle">22</text><text x="586.0" y="667.6" font-size="9.6" text-anchor="middle">F</text><text x="610.0" y="667.6" font-size="9.6" text-anchor="middle">M</text><text x="634.0" y="667.6" font-size="9.6" text-anchor="middle">A</text><text x="658.0" y="667.6" font-size="9.6" text-anchor="middle">M</text><text x="688.0" y="667.6" font-size="9.6" text-anchor="middle">J</text><text x="712.0" y="667.6" font-size="9.6" text-anchor="middle">J</text><text x="736.0" y="667.6" font-size="9.6" text-anchor="middle">A</text><text x="766.0" y="667.6" font-size="9.6" text-anchor="middle">S</text><text x="790.0" y="667.6" font-size="9.6" text-anchor="middle">O</text><text x="820.0" y="667.6" font-size="9.6" text-anchor="middle">N</text><text x="844.0" y="667.6" font-size="9.6" text-anchor="middle">D</text>
<g shape-rendering="crispEdges"><rect x="857" y="146" width="3" height="1" fill="#7a7f8d"/><rect x="857" y="131" width="3" height="1" fill="#7a7f8d"/><rect x="857" y="117" width="3" height="1" fill="#7a7f8d"/><rect x="857" y="103" width="3" height="1" fill="#7a7f8d"/><rect x="857" y="89" width="3" height="1" fill="#7a7f8d"/><rect x="857" y="75" width="3" height="1" fill="#7a7f8d"/><rect x="857" y="61" width="3" height="1" fill="#7a7f8d"/><rect x="857" y="47" width="3" height="1" fill="#7a7f8d"/><rect x="857" y="33" width="3" height="1" fill="#7a7f8d"/><rect x="857" y="488" width="3" height="1" fill="#7a7f8d"/><rect x="857" y="479" width="2" height="1" fill="#7a7f8d"/><rect x="857" y="470" width="2" height="1" fill="#7a7f8d"/><rect x="857" y="462" width="2" height="1" fill="#7a7f8d"/><rect x="857" y="454" width="2" height="1" fill="#7a7f8d"/><rect x="857" y="446" width="3" height="1" fill="#7a7f8d"/><rect x="857" y="439" width="2" height="1" fill="#7a7f8d"/><rect x="857" y="432" width="2" height="1" fill="#7a7f8d"/><rect x="857" y="425" width="2" height="1" fill="#7a7f8d"/><rect x="857" y="418" width="2" height="1" fill="#7a7f8d"/><rect x="857" y="412" width="3" height="1" fill="#7a7f8d"/><rect x="857" y="406" width="2" height="1" fill="#7a7f8d"/><rect x="857" y="400" width="2" height="1" fill="#7a7f8d"/><rect x="857" y="394" width="2" height="1" fill="#7a7f8d"/><rect x="857" y="388" width="2" height="1" fill="#7a7f8d"/><rect x="857" y="383" width="3" height="1" fill="#7a7f8d"/><rect x="857" y="378" width="2" height="1" fill="#7a7f8d"/><rect x="857" y="373" width="2" height="1" fill="#7a7f8d"/><rect x="857" y="367" width="2" height="1" fill="#7a7f8d"/><rect x="857" y="363" width="2" height="1" fill="#7a7f8d"/><rect x="857" y="358" width="3" height="1" fill="#7a7f8d"/><rect x="857" y="353" width="2" height="1" fill="#7a7f8d"/><rect x="857" y="349" width="2" height="1" fill="#7a7f8d"/><rect x="857" y="344" width="2" height="1" fill="#7a7f8d"/><rect x="857" y="340" width="2" height="1" fill="#7a7f8d"/><rect x="857" y="336" width="3" height="1" fill="#7a7f8d"/><rect x="857" y="332" width="2" height="1" fill="#7a7f8d"/><rect x="857" y="328" width="2" height="1" fill="#7a7f8d"/><rect x="857" y="324" width="2" height="1" fill="#7a7f8d"/><rect x="857" y="320" width="2" height="1" fill="#7a7f8d"/><rect x="857" y="316" width="3" height="1" fill="#7a7f8d"/><rect x="857" y="312" width="2" height="1" fill="#7a7f8d"/><rect x="857" y="308" width="2" height="1" fill="#7a7f8d"/><rect x="857" y="305" width="2" height="1" fill="#7a7f8d"/><rect x="857" y="301" width="2" height="1" fill="#7a7f8d"/><rect x="857" y="298" width="3" height="1" fill="#7a7f8d"/><rect x="857" y="295" width="2" height="1" fill="#7a7f8d"/><rect x="857" y="291" width="2" height="1" fill="#7a7f8d"/><rect x="857" y="288" width="2" height="1" fill="#7a7f8d"/><rect x="857" y="285" width="2" height="1" fill="#7a7f8d"/><rect x="857" y="282" width="3" height="1" fill="#7a7f8d"/><rect x="857" y="278" width="2" height="1" fill="#7a7f8d"/><rect x="857" y="275" width="2" height="1" fill="#7a7f8d"/><rect x="857" y="272" width="2" height="1" fill="#7a7f8d"/><rect x="857" y="269" width="2" height="1" fill="#7a7f8d"/><rect x="857" y="267" width="3" height="1" fill="#7a7f8d"/><rect x="857" y="264" width="2" height="1" fill="#7a7f8d"/><rect x="857" y="261" width="2" height="1" fill="#7a7f8d"/><rect x="857" y="258" width="2" height="1" fill="#7a7f8d"/><rect x="857" y="255" width="2" height="1" fill="#7a7f8d"/><rect x="857" y="253" width="3" height="1" fill="#7a7f8d"/><rect x="857" y="250" width="2" height="1" fill="#7a7f8d"/><rect x="857" y="247" width="2" height="1" fill="#7a7f8d"/><rect x="857" y="245" width="2" height="1" fill="#7a7f8d"/><rect x="857" y="242" width="2" height="1" fill="#7a7f8d"/><rect x="857" y="240" width="3" height="1" fill="#7a7f8d"/><rect x="857" y="237" width="2" height="1" fill="#7a7f8d"/><rect x="857" y="235" width="2" height="1" fill="#7a7f8d"/><rect x="857" y="232" width="2" height="1" fill="#7a7f8d"/><rect x="857" y="230" width="2" height="1" fill="#7a7f8d"/><rect x="857" y="227" width="3" height="1" fill="#7a7f8d"/><rect x="857" y="225" width="2" height="1" fill="#7a7f8d"/><rect x="857" y="223" width="2" height="1" fill="#7a7f8d"/><rect x="857" y="221" width="2" height="1" fill="#7a7f8d"/><rect x="857" y="218" width="2" height="1" fill="#7a7f8d"/><rect x="857" y="216" width="3" height="1" fill="#7a7f8d"/><rect x="857" y="214" width="2" height="1" fill="#7a7f8d"/><rect x="857" y="212" width="2" height="1" fill="#7a7f8d"/><rect x="857" y="210" width="2" height="1" fill="#7a7f8d"/><rect x="857" y="207" width="2" height="1" fill="#7a7f8d"/><rect x="857" y="205" width="3" height="1" fill="#7a7f8d"/><rect x="857" y="203" width="2" height="1" fill="#7a7f8d"/><rect x="857" y="201" width="2" height="1" fill="#7a7f8d"/><rect x="857" y="199" width="2" height="1" fill="#7a7f8d"/><rect x="857" y="197" width="2" height="1" fill="#7a7f8d"/><rect x="857" y="195" width="3" height="1" fill="#7a7f8d"/><rect x="857" y="193" width="2" height="1" fill="#7a7f8d"/><rect x="857" y="191" width="2" height="1" fill="#7a7f8d"/><rect x="857" y="189" width="2" height="1" fill="#7a7f8d"/><rect x="857" y="187" width="2" height="1" fill="#7a7f8d"/><rect x="857" y="186" width="3" height="1" fill="#7a7f8d"/><rect x="857" y="184" width="2" height="1" fill="#7a7f8d"/><rect x="857" y="182" width="2" height="1" fill="#7a7f8d"/><rect x="857" y="180" width="2" height="1" fill="#7a7f8d"/><rect x="857" y="178" width="2" height="1" fill="#7a7f8d"/><rect x="857" y="176" width="3" height="1" fill="#7a7f8d"/><rect x="857" y="175" width="2" height="1" fill="#7a7f8d"/><rect x="857" y="173" width="2" height="1" fill="#7a7f8d"/><rect x="857" y="171" width="2" height="1" fill="#7a7f8d"/><rect x="857" y="169" width="2" height="1" fill="#7a7f8d"/><rect x="857" y="168" width="3" height="1" fill="#7a7f8d"/><rect x="857" y="642" width="3" height="1" fill="#7a7f8d"/><rect x="857" y="631" width="2" height="1" fill="#7a7f8d"/><rect x="857" y="620" width="3" height="1" fill="#7a7f8d"/><rect x="857" y="609" width="2" height="1" fill="#7a7f8d"/><rect x="857" y="598" width="3" height="1" fill="#7a7f8d"/><rect x="857" y="587" width="2" height="1" fill="#7a7f8d"/><rect x="857" y="576" width="3" height="1" fill="#7a7f8d"/><rect x="857" y="566" width="2" height="1" fill="#7a7f8d"/><rect x="857" y="555" width="3" height="1" fill="#7a7f8d"/><rect x="857" y="544" width="2" height="1" fill="#7a7f8d"/></g>
<text x="880.5" y="149.1" font-size="9" class="d" text-anchor="end">-2.5</text>
<text x="880.5" y="134.9" font-size="9" class="d" text-anchor="end">0.0</text>
<text x="880.5" y="120.8" font-size="9" class="d" text-anchor="end">2.5</text>
<text x="880.5" y="106.7" font-size="9" class="d" text-anchor="end">5.0</text>
<text x="880.5" y="92.6" font-size="9" class="d" text-anchor="end">7.5</text>
<text x="880.5" y="78.4" font-size="9" class="d" text-anchor="end">10.0</text>
<text x="880.5" y="64.3" font-size="9" class="d" text-anchor="end">12.5</text>
<text x="860" y="491.0" font-size="9" class="d" text-anchor="start">1000</text>
<text x="860" y="449.0" font-size="9" class="d" text-anchor="start">1250</text>
<text x="860" y="414.7" font-size="9" class="d" text-anchor="start">1500</text>
<text x="860" y="385.8" font-size="9" class="d" text-anchor="start">1750</text>
<text x="860" y="360.6" font-size="9" class="d" text-anchor="start">2000</text>
<text x="860" y="338.5" font-size="9" class="d" text-anchor="start">2250</text>
<text x="860" y="318.7" font-size="9" class="d" text-anchor="start">2500</text>
<text x="860" y="300.7" font-size="9" class="d" text-anchor="start">2750</text>
<text x="860" y="284.4" font-size="9" class="d" text-anchor="start">3000</text>
<text x="860" y="269.3" font-size="9" class="d" text-anchor="start">3250</text>
<text x="860" y="255.4" font-size="9" class="d" text-anchor="start">3500</text>
<text x="860" y="242.4" font-size="9" class="d" text-anchor="start">3750</text>
<text x="860" y="230.3" font-size="9" class="d" text-anchor="start">4000</text>
<text x="860" y="218.9" font-size="9" class="d" text-anchor="start">4250</text>
<text x="860" y="208.1" font-size="9" class="d" text-anchor="start">4500</text>
<text x="860" y="198.0" font-size="9" class="d" text-anchor="start">4750</text>
<text x="860" y="188.3" font-size="9" class="d" text-anchor="start">5000</text>
<text x="860" y="179.1" font-size="9" class="d" text-anchor="start">5250</text>
<text x="860" y="170.4" font-size="9" class="d" text-anchor="start">5500</text>
<text x="860" y="644.9" font-size="9" class="d" text-anchor="start">0.4</text>
<text x="860" y="623.2" font-size="9" class="d" text-anchor="start">0.6</text>
<text x="860" y="601.4" font-size="9" class="d" text-anchor="start">0.8</text>
<text x="860" y="579.7" font-size="9" class="d" text-anchor="start">1.0</text>
<text x="860" y="557.9" font-size="9" class="d" text-anchor="start">1.2</text>
<text x="16.5" y="13.6" font-size="12.5" font-weight="bold" fill="#000">$XU100</text>
<text x="66.3" y="13.4" font-size="10.5" fill="#000">Turkey (Istanbul) ISE National 100 Index (EOD)</text>
<text x="293" y="13" font-size="9" class="d" fill="#000" textLength="21.5" lengthAdjust="spacing">BIST</text>
<text x="16.7" y="25.8" font-size="9" class="d" fill="#000" textLength="59" lengthAdjust="spacing">15-Dec-2022</text>
<text x="856.5" y="13" font-size="10.4" fill="#4a4d57" style="stroke:#4a4d57;stroke-width:0.1px" text-anchor="end">© StockCharts.com</text>
<text x="436.2" y="25.3" font-size="10.5" font-weight="bold" fill="#000">Open</text>
<text x="467.8" y="25.3" font-size="10.5" fill="#000">5057.53</text>
<text x="512.7" y="25.3" font-size="10.5" font-weight="bold" fill="#000">High</text>
<text x="539.6" y="25.3" font-size="10.5" fill="#000">5301.87</text>
<text x="584.4" y="25.3" font-size="10.5" font-weight="bold" fill="#000">Low</text>
<text x="611.8" y="25.3" font-size="10.5" fill="#000">5042.09</text>
<text x="657" y="25.3" font-size="10.5" font-weight="bold" fill="#000">Close</text>
<text x="692" y="25.3" font-size="10.5" fill="#000">5188.82</text>
<text x="737.3" y="25.3" font-size="10.5" font-weight="bold" fill="#000">Chg</text>
<text x="761.8" y="25.3" font-size="10.5" fill="#000">+183.52 (+3.67%)</text>
<path d="M849 25 L852.5 20 L856 25 Z" fill="#8f9bb0"/>
<rect x="17" y="29" width="220" height="12" fill="#f4f6fb"/>
<rect x="17" y="156" width="214" height="12" fill="#f4f6fb"/>
<rect x="17" y="168" width="83" height="10" fill="#f4f6fb"/>
<rect x="17" y="178" width="76" height="11" fill="#f4f6fb"/>
<rect x="17" y="532" width="172" height="12" fill="#f4f6fb"/>
<rect x="18" y="34" width="9" height="2" fill="#000"/>
<text x="31.5" y="38.6" font-size="9.8" class="d" fill="#000" textLength="205" lengthAdjust="spacing">PPO(12,26,9) 16.980<tspan fill="#a3123f" style="stroke:#a3123f">, 14.969</tspan><tspan fill="#3f8a78" style="stroke:#3f8a78">, 2.010</tspan></text>
<g shape-rendering="crispEdges" fill="#000"><rect x="19" y="158" width="1" height="7"/><rect x="17" y="159" width="2" height="1"/><rect x="20" y="162" width="2" height="1"/><rect x="24" y="159" width="1" height="8"/><rect x="22" y="160" width="2" height="1"/><rect x="25" y="164" width="2" height="1"/></g>
<text x="31.5" y="165.6" font-size="9.8" class="d" fill="#000" textLength="199" lengthAdjust="spacing">$XU100 (Weekly) 5188.82 (15 Dec)</text>
<rect x="18" y="173" width="9" height="2" fill="#1f1fa0"/>
<text x="29.7" y="176.6" font-size="8.5" class="d" fill="#121285" style="stroke:#121285">MA(40) 3131.38</text>
<g shape-rendering="crispEdges"><rect x="18" y="180" width="9" height="7" fill="#1a3a7a"/><rect x="19" y="183" width="1" height="4" fill="#7fa0d0"/><rect x="21" y="181" width="1" height="6" fill="#7fa0d0"/><rect x="24" y="182" width="1" height="5" fill="#7fa0d0"/></g>
<text x="29.7" y="186.4" font-size="9" class="d" fill="#1c4896" style="stroke:#1c4896">Volume undef</text>
<rect x="18" y="537" width="9" height="3" fill="#1c2b5a"/>
<text x="31.7" y="542" font-size="9.8" class="d" fill="#000" textLength="155.5" lengthAdjust="spacing">$XU100:$SPX 1.35 (15 Dec)</text>
<path d="M854.3 34.5 L858.5 29.5 L893.5 29.5 L893.5 39.5 L858.5 39.5 Z" fill="#ffffff" stroke="#000" stroke-width="1.1"/><text x="859.1" y="37.5" font-size="9" class="d" fill="#000">16.980</text>
<path d="M854.3 46.5 L858.5 41.5 L893.5 41.5 L893.5 51.5 L858.5 51.5 Z" fill="#ffffff" stroke="#b2204e" stroke-width="1.1"/><text x="859.1" y="49.5" font-size="9" class="d" fill="#000">14.969</text>
<path d="M854.3 119.5 L858.5 114.5 L887.5 114.5 L887.5 124.5 L858.5 124.5 Z" fill="#ffffff" stroke="#5b5ea6" stroke-width="1.1"/><text x="859.1" y="122.5" font-size="9" class="d" fill="#000">2.010</text>
<path d="M854.3 179.0 L858.5 173.5 L899.5 173.5 L899.5 184.5 L858.5 184.5 Z" fill="#ffffff" stroke="#000" stroke-width="1.1"/><text x="858.9" y="182" font-size="10.5" font-weight="bold" fill="#000">5188.82</text>
<path d="M854.3 272.5 L858.5 267.5 L899.5 267.5 L899.5 277.5 L858.5 277.5 Z" fill="#ffffff" stroke="#1e1e9e" stroke-width="1.1"/><text x="859.1" y="275.5" font-size="9" class="d" fill="#000">3131.38</text>
<path d="M854.3 538.0 L858.5 532.5 L881.5 532.5 L881.5 543.5 L858.5 543.5 Z" fill="#ffffff" stroke="#1c2b5a" stroke-width="1.1"/><text x="858.9" y="541.7" font-size="10.5" font-weight="bold" fill="#000">1.35</text>
<path d="M86.5 438.5 H123.5 V448.5 H110.5 L105.5 453.5 L100.5 448.5 H86.5 Z" fill="#fcfcfe" stroke="#979cab" stroke-width="1"/><text x="105.0" y="446.0" font-size="9" text-anchor="middle" fill="#000">1205.86</text>
<path d="M100.5 496.5 H112.5 L117.5 491.5 L122.5 496.5 H133.5 V506.5 H100.5 Z" fill="#fcfcfe" stroke="#979cab" stroke-width="1"/><text x="117.0" y="504.0" font-size="9" text-anchor="middle" fill="#000">985.38</text>
<path d="M122.5 481.5 H136.5 L141.5 476.5 L146.5 481.5 H159.5 V491.5 H122.5 Z" fill="#fcfcfe" stroke="#979cab" stroke-width="1"/><text x="141.0" y="489.0" font-size="9" text-anchor="middle" fill="#000">1064.42</text>
<path d="M170.5 476.5 H184.5 L189.5 471.5 L194.5 476.5 H207.5 V486.5 H170.5 Z" fill="#fcfcfe" stroke="#979cab" stroke-width="1"/><text x="189.0" y="484.0" font-size="9" text-anchor="middle" fill="#000">1095.72</text>
<path d="M242.5 387.5 H279.5 V397.5 H266.5 L261.5 402.5 L256.5 397.5 H242.5 Z" fill="#fcfcfe" stroke="#979cab" stroke-width="1"/><text x="261.0" y="395.0" font-size="9" text-anchor="middle" fill="#000">1582.04</text>
<path d="M248.5 426.5 H262.5 L267.5 421.5 L272.5 426.5 H285.5 V436.5 H248.5 Z" fill="#fcfcfe" stroke="#979cab" stroke-width="1"/><text x="267.0" y="434.0" font-size="9" text-anchor="middle" fill="#000">1431.32</text>
<path d="M290.5 386.5 H327.5 V396.5 H314.5 L309.5 401.5 L304.5 396.5 H290.5 Z" fill="#fcfcfe" stroke="#979cab" stroke-width="1"/><text x="309.0" y="394.0" font-size="9" text-anchor="middle" fill="#000">1589.47</text>
<path d="M296.5 450.5 H310.5 L315.5 445.5 L320.5 450.5 H333.5 V460.5 H296.5 Z" fill="#fcfcfe" stroke="#979cab" stroke-width="1"/><text x="315.0" y="458.0" font-size="9" text-anchor="middle" fill="#000">1256.32</text>
<path d="M368.5 401.5 H405.5 V411.5 H392.5 L387.5 416.5 L382.5 411.5 H368.5 Z" fill="#fcfcfe" stroke="#979cab" stroke-width="1"/><text x="387.0" y="409.0" font-size="9" text-anchor="middle" fill="#000">1468.95</text>
<path d="M392.5 438.5 H406.5 L411.5 433.5 L416.5 438.5 H429.5 V448.5 H392.5 Z" fill="#fcfcfe" stroke="#979cab" stroke-width="1"/><text x="411.0" y="446.0" font-size="9" text-anchor="middle" fill="#000">1341.52</text>
<path d="M428.5 399.5 H465.5 V409.5 H452.5 L447.5 414.5 L442.5 409.5 H428.5 Z" fill="#fcfcfe" stroke="#979cab" stroke-width="1"/><text x="447.0" y="407.0" font-size="9" text-anchor="middle" fill="#000">1484.95</text>
<path d="M458.5 434.5 H472.5 L477.5 429.5 L482.5 434.5 H495.5 V444.5 H458.5 Z" fill="#fcfcfe" stroke="#979cab" stroke-width="1"/><text x="477.0" y="442.0" font-size="9" text-anchor="middle" fill="#000">1371.54</text>
<path d="M518.5 307.5 H555.5 V317.5 H542.5 L537.5 322.5 L532.5 317.5 H518.5 Z" fill="#fcfcfe" stroke="#979cab" stroke-width="1"/><text x="537.0" y="315.0" font-size="9" text-anchor="middle" fill="#000">2406.87</text>
<path d="M524.5 390.5 H538.5 L543.5 385.5 L548.5 390.5 H561.5 V400.5 H524.5 Z" fill="#fcfcfe" stroke="#979cab" stroke-width="1"/><text x="543.0" y="398.0" font-size="9" text-anchor="middle" fill="#000">1726.32</text>
<path d="M548.5 333.5 H585.5 V343.5 H572.5 L567.5 348.5 L562.5 343.5 H548.5 Z" fill="#fcfcfe" stroke="#979cab" stroke-width="1"/><text x="567.0" y="341.0" font-size="9" text-anchor="middle" fill="#000">2102.97</text>
<path d="M554.5 374.5 H568.5 L573.5 369.5 L578.5 374.5 H591.5 V384.5 H554.5 Z" fill="#fcfcfe" stroke="#979cab" stroke-width="1"/><text x="573.0" y="382.0" font-size="9" text-anchor="middle" fill="#000">1880.18</text>
<path d="M626.5 296.5 H663.5 V306.5 H650.5 L645.5 311.5 L640.5 306.5 H626.5 Z" fill="#fcfcfe" stroke="#979cab" stroke-width="1"/><text x="645.0" y="304.0" font-size="9" text-anchor="middle" fill="#000">2562.28</text>
<path d="M668.5 287.5 H705.5 V297.5 H692.5 L687.5 302.5 L682.5 297.5 H668.5 Z" fill="#fcfcfe" stroke="#979cab" stroke-width="1"/><text x="687.0" y="295.0" font-size="9" text-anchor="middle" fill="#000">2684.77</text>
<path d="M692.5 332.5 H706.5 L711.5 327.5 L716.5 332.5 H729.5 V342.5 H692.5 Z" fill="#fcfcfe" stroke="#979cab" stroke-width="1"/><text x="711.0" y="340.0" font-size="9" text-anchor="middle" fill="#000">2359.09</text>
<path d="M752.5 226.5 H789.5 V236.5 H776.5 L771.5 241.5 L766.5 236.5 H752.5 Z" fill="#fcfcfe" stroke="#979cab" stroke-width="1"/><text x="771.0" y="234.0" font-size="9" text-anchor="middle" fill="#000">3715.28</text>
<path d="M764.5 284.5 H778.5 L783.5 279.5 L788.5 284.5 H801.5 V294.5 H764.5 Z" fill="#fcfcfe" stroke="#979cab" stroke-width="1"/><text x="783.0" y="292.0" font-size="9" text-anchor="middle" fill="#000">3048.67</text>
<path d="M818.5 166.5 H855.5 V176.5 H842.5 L837.5 181.5 L832.5 176.5 H818.5 Z" fill="#fcfcfe" stroke="#979cab" stroke-width="1"/><text x="837.0" y="174.0" font-size="9" text-anchor="middle" fill="#000">5087.99</text>
</svg>
</body></html>
